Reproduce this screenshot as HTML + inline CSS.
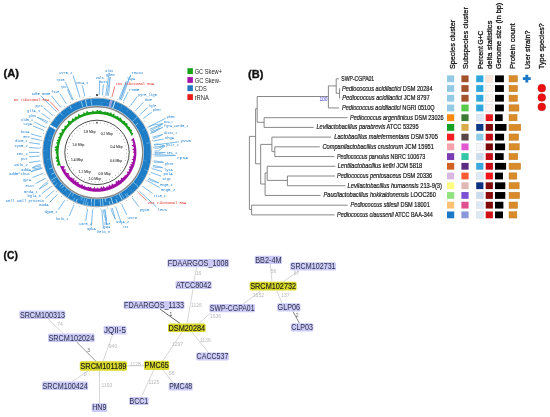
<!DOCTYPE html>
<html><head><meta charset="utf-8"><style>
html,body{margin:0;padding:0;background:#fff;width:550px;height:417px;overflow:hidden}
svg{display:block;will-change:transform}
</style></head><body>
<svg width="550" height="417" viewBox="0 0 550 417">
<rect width="550" height="417" fill="#fff"/>
<text x="3.60" y="77.40" font-family="Liberation Sans" font-size="11.3" fill="#111" font-weight="bold" font-style="normal" text-anchor="start" textLength="15.50" lengthAdjust="spacingAndGlyphs" stroke="#111" stroke-width="0.35">(A)</text>
<rect x="187.4" y="68.20" width="5.5" height="5.8" fill="#1aa31a"/>
<text x="194.70" y="73.60" font-family="Liberation Sans" font-size="6.4" fill="#2a2a2a" font-weight="normal" font-style="normal" text-anchor="start" textLength="27.30" lengthAdjust="spacingAndGlyphs">GC Skew+</text>
<rect x="187.4" y="77.10" width="5.5" height="5.8" fill="#a312a6"/>
<text x="194.70" y="82.50" font-family="Liberation Sans" font-size="6.4" fill="#2a2a2a" font-weight="normal" font-style="normal" text-anchor="start" textLength="26.20" lengthAdjust="spacingAndGlyphs">GC Skew-</text>
<rect x="187.4" y="85.30" width="5.5" height="5.8" fill="#2577c0"/>
<text x="194.70" y="90.70" font-family="Liberation Sans" font-size="6.4" fill="#2a2a2a" font-weight="normal" font-style="normal" text-anchor="start" textLength="12.00" lengthAdjust="spacingAndGlyphs">CDS</text>
<rect x="187.4" y="94.20" width="5.5" height="5.8" fill="#ea1b1b"/>
<text x="194.70" y="99.60" font-family="Liberation Sans" font-size="6.4" fill="#2a2a2a" font-weight="normal" font-style="normal" text-anchor="start" textLength="14.20" lengthAdjust="spacingAndGlyphs">rRNA</text>
<g><polyline points="79.96,97.48 78.78,93.66 73.10,75.36" fill="none" stroke="#5aa7df" stroke-width="0.8"/><polyline points="73.31,100.01 71.66,96.36 65.21,82.11" fill="none" stroke="#5aa7df" stroke-width="0.8"/><polyline points="84.77,96.22 83.92,92.31 82.41,85.38" fill="none" stroke="#5aa7df" stroke-width="0.8"/><polyline points="72.47,100.40 70.76,96.78 67.33,89.50" fill="none" stroke="#5aa7df" stroke-width="0.8"/><polyline points="66.32,103.77 64.19,100.39 59.93,93.65" fill="none" stroke="#5aa7df" stroke-width="0.8"/><polyline points="60.95,107.61 58.44,104.49 51.43,95.78" fill="none" stroke="#5aa7df" stroke-width="0.8"/><polyline points="56.45,111.63 53.63,108.80 40.71,95.81" fill="none" stroke="#5aa7df" stroke-width="0.8"/><polyline points="58.02,110.13 55.31,107.19 50.28,101.74" fill="none" stroke="#ea5a55" stroke-width="0.8"/><polyline points="52.91,115.49 49.84,112.93 43.77,107.84" fill="none" stroke="#5aa7df" stroke-width="0.8"/><polyline points="50.02,119.25 46.75,116.94 41.42,113.18" fill="none" stroke="#5aa7df" stroke-width="0.8"/><polyline points="47.42,123.27 43.97,121.25 37.26,117.31" fill="none" stroke="#5aa7df" stroke-width="0.8"/><polyline points="48.10,122.16 44.69,120.05 37.26,117.31" fill="none" stroke="#5aa7df" stroke-width="0.7"/><polyline points="45.25,127.34 41.65,125.59 34.30,122.04" fill="none" stroke="#5aa7df" stroke-width="0.8"/><polyline points="43.87,130.42 40.17,128.90 33.12,125.98" fill="none" stroke="#5aa7df" stroke-width="0.8"/><polyline points="41.63,136.89 37.78,135.81 30.86,133.87" fill="none" stroke="#5aa7df" stroke-width="0.8"/><polyline points="40.80,140.25 36.89,139.41 30.88,138.11" fill="none" stroke="#5aa7df" stroke-width="0.8"/><polyline points="40.10,144.14 36.14,143.57 29.09,142.54" fill="none" stroke="#5aa7df" stroke-width="0.8"/><polyline points="39.65,148.24 35.66,147.95 29.10,147.47" fill="none" stroke="#5aa7df" stroke-width="0.8"/><polyline points="39.50,152.40 35.50,152.40 29.10,152.40" fill="none" stroke="#5aa7df" stroke-width="0.8"/><polyline points="39.62,156.06 35.63,156.32 29.10,156.74" fill="none" stroke="#5aa7df" stroke-width="0.8"/><polyline points="40.13,160.90 36.18,161.49 29.09,162.55" fill="none" stroke="#5aa7df" stroke-width="0.8"/><polyline points="41.06,165.70 37.17,166.63 32.37,167.77" fill="none" stroke="#5aa7df" stroke-width="0.8"/><polyline points="40.77,164.43 36.86,165.27 32.37,167.77" fill="none" stroke="#5aa7df" stroke-width="0.7"/><polyline points="41.72,168.23 37.88,169.33 32.37,167.77" fill="none" stroke="#5aa7df" stroke-width="0.7"/><polyline points="41.80,168.49 37.96,169.61 31.06,171.62" fill="none" stroke="#5aa7df" stroke-width="0.8"/><polyline points="41.45,167.23 37.58,168.27 31.06,171.62" fill="none" stroke="#5aa7df" stroke-width="0.7"/><polyline points="43.41,173.23 39.68,174.68 32.33,177.54" fill="none" stroke="#5aa7df" stroke-width="0.8"/><polyline points="45.67,178.31 42.10,180.11 35.49,183.45" fill="none" stroke="#5aa7df" stroke-width="0.8"/><polyline points="48.41,183.14 45.03,185.28 39.05,189.07" fill="none" stroke="#5aa7df" stroke-width="0.8"/><polyline points="47.72,182.03 44.30,184.09 39.05,189.07" fill="none" stroke="#5aa7df" stroke-width="0.7"/><polyline points="50.91,186.78 47.70,189.17 41.90,193.50" fill="none" stroke="#5aa7df" stroke-width="0.8"/><polyline points="54.02,190.60 51.03,193.26 45.55,198.14" fill="none" stroke="#5aa7df" stroke-width="0.8"/><polyline points="57.51,194.20 54.76,197.10 49.79,202.37" fill="none" stroke="#5aa7df" stroke-width="0.8"/><polyline points="64.86,200.08 62.62,203.39 58.46,209.57" fill="none" stroke="#5aa7df" stroke-width="0.8"/><polyline points="73.97,205.08 72.36,208.75 69.20,215.98" fill="none" stroke="#5aa7df" stroke-width="0.8"/><polyline points="87.59,209.12 86.93,213.07 85.66,220.71" fill="none" stroke="#5aa7df" stroke-width="0.8"/><polyline points="92.61,209.73 92.30,213.72 91.38,225.80" fill="none" stroke="#5aa7df" stroke-width="0.8"/><polyline points="105.05,209.33 105.61,213.29 106.66,220.71" fill="none" stroke="#5aa7df" stroke-width="0.8"/><polyline points="104.65,209.39 105.18,213.35 106.67,224.41" fill="none" stroke="#5aa7df" stroke-width="0.8"/><polyline points="103.36,209.55 103.80,213.52 106.67,224.41" fill="none" stroke="#5aa7df" stroke-width="0.7"/><polyline points="101.82,209.70 102.15,213.68 103.42,228.70" fill="none" stroke="#5aa7df" stroke-width="0.8"/><polyline points="112.21,207.85 113.27,211.71 115.34,219.24" fill="none" stroke="#5aa7df" stroke-width="0.8"/><polyline points="110.95,208.18 111.92,212.06 115.34,219.24" fill="none" stroke="#5aa7df" stroke-width="0.7"/><polyline points="115.70,206.78 117.00,210.56 121.77,224.45" fill="none" stroke="#5aa7df" stroke-width="0.8"/><polyline points="121.73,204.31 123.45,207.92 126.77,214.90" fill="none" stroke="#5aa7df" stroke-width="0.8"/><polyline points="132.13,197.92 134.57,201.09 138.99,206.81" fill="none" stroke="#5aa7df" stroke-width="0.8"/><polyline points="139.38,191.26 142.33,193.96 156.46,206.92" fill="none" stroke="#5aa7df" stroke-width="0.8"/><polyline points="138.19,192.52 141.05,195.31 146.48,200.60" fill="none" stroke="#ea5a55" stroke-width="0.8"/><polyline points="143.20,186.64 146.41,189.02 152.60,193.60" fill="none" stroke="#5aa7df" stroke-width="0.8"/><polyline points="147.11,180.60 150.59,182.57 159.73,187.71" fill="none" stroke="#5aa7df" stroke-width="0.8"/><polyline points="148.53,177.92 152.11,179.69 158.70,182.96" fill="none" stroke="#5aa7df" stroke-width="0.8"/><polyline points="147.94,179.08 151.48,180.94 158.70,182.96" fill="none" stroke="#5aa7df" stroke-width="0.7"/><polyline points="150.91,172.39 154.66,173.78 161.06,176.15" fill="none" stroke="#5aa7df" stroke-width="0.8"/><polyline points="152.17,168.62 156.00,169.74 162.04,171.52" fill="none" stroke="#5aa7df" stroke-width="0.8"/><polyline points="153.02,165.35 156.92,166.26 162.63,167.57" fill="none" stroke="#5aa7df" stroke-width="0.8"/><polyline points="152.71,166.62 156.59,167.61 162.63,167.57" fill="none" stroke="#5aa7df" stroke-width="0.7"/><polyline points="153.88,160.81 157.84,161.40 163.61,162.25" fill="none" stroke="#5aa7df" stroke-width="0.8"/><polyline points="153.68,162.10 157.62,162.78 163.61,162.25" fill="none" stroke="#5aa7df" stroke-width="0.7"/><polyline points="154.46,154.64 158.45,154.79 175.60,155.46" fill="none" stroke="#5aa7df" stroke-width="0.8"/><polyline points="154.39,155.94 158.38,156.19 175.60,155.46" fill="none" stroke="#5aa7df" stroke-width="0.7"/><polyline points="154.50,152.40 158.50,152.40 165.30,152.40" fill="none" stroke="#5aa7df" stroke-width="0.8"/><polyline points="154.49,153.70 158.48,153.80 165.30,152.40" fill="none" stroke="#5aa7df" stroke-width="0.7"/><polyline points="154.25,147.07 158.24,146.70 164.80,146.09" fill="none" stroke="#5aa7df" stroke-width="0.8"/><polyline points="154.36,148.37 158.35,148.09 164.80,146.09" fill="none" stroke="#5aa7df" stroke-width="0.7"/><polyline points="153.95,144.48 157.91,143.93 164.80,146.09" fill="none" stroke="#5aa7df" stroke-width="0.7"/><polyline points="154.48,150.98 158.48,150.88 164.80,146.09" fill="none" stroke="#5aa7df" stroke-width="0.7"/><polyline points="154.03,145.05 158.00,144.54 179.01,141.83" fill="none" stroke="#5aa7df" stroke-width="0.8"/><polyline points="153.37,141.04 157.29,140.25 163.52,139.00" fill="none" stroke="#5aa7df" stroke-width="0.8"/><polyline points="152.47,137.24 156.32,136.19 162.64,134.46" fill="none" stroke="#5aa7df" stroke-width="0.8"/><polyline points="152.80,138.50 156.68,137.54 162.64,134.46" fill="none" stroke="#5aa7df" stroke-width="0.7"/><polyline points="150.73,131.91 154.46,130.48 162.67,127.36" fill="none" stroke="#5aa7df" stroke-width="0.8"/><polyline points="151.18,133.13 154.95,131.79 162.67,127.36" fill="none" stroke="#5aa7df" stroke-width="0.7"/><polyline points="149.69,129.38 153.36,127.78 162.68,123.70" fill="none" stroke="#5aa7df" stroke-width="0.8"/><polyline points="150.20,130.58 153.90,129.06 162.68,123.70" fill="none" stroke="#5aa7df" stroke-width="0.7"/><polyline points="148.59,127.01 152.18,125.25 162.68,123.70" fill="none" stroke="#5aa7df" stroke-width="0.7"/><polyline points="151.13,133.01 154.90,131.67 162.68,123.70" fill="none" stroke="#5aa7df" stroke-width="0.7"/><polyline points="148.52,126.86 152.10,125.09 165.70,118.34" fill="none" stroke="#5aa7df" stroke-width="0.8"/><polyline points="143.36,118.38 146.58,116.02 151.79,112.19" fill="none" stroke="#5aa7df" stroke-width="0.8"/><polyline points="140.13,114.37 143.13,111.73 147.85,107.56" fill="none" stroke="#5aa7df" stroke-width="0.8"/><polyline points="136.02,110.16 138.73,107.23 143.62,101.93" fill="none" stroke="#5aa7df" stroke-width="0.8"/><polyline points="130.58,105.73 132.92,102.48 137.22,96.51" fill="none" stroke="#5aa7df" stroke-width="0.8"/><polyline points="123.35,101.29 125.18,97.74 128.14,91.99" fill="none" stroke="#5aa7df" stroke-width="0.8"/><polyline points="111.98,96.88 113.02,93.02 114.84,86.27" fill="none" stroke="#ea5a55" stroke-width="0.8"/><polyline points="118.92,99.24 120.44,95.54 126.22,81.52" fill="none" stroke="#5aa7df" stroke-width="0.8"/><polyline points="120.12,99.75 121.72,96.09 126.22,81.52" fill="none" stroke="#5aa7df" stroke-width="0.7"/><polyline points="119.93,99.67 121.53,96.00 130.70,74.92" fill="none" stroke="#5aa7df" stroke-width="0.8"/><polyline points="121.12,100.21 122.80,96.57 130.70,74.92" fill="none" stroke="#5aa7df" stroke-width="0.7"/><polyline points="102.39,95.15 102.77,91.17 103.41,84.40" fill="none" stroke="#5aa7df" stroke-width="0.8"/><polyline points="99.20,94.94 99.35,90.95 99.76,80.30" fill="none" stroke="#5aa7df" stroke-width="0.8"/><polyline points="106.88,95.76 107.57,91.82 110.18,76.89" fill="none" stroke="#5aa7df" stroke-width="0.8"/><polyline points="108.17,95.99 108.94,92.07 110.18,76.89" fill="none" stroke="#5aa7df" stroke-width="0.7"/><polyline points="105.67,95.56 106.28,91.60 109.15,72.79" fill="none" stroke="#5aa7df" stroke-width="0.8"/></g>
<text x="59.30" y="74.25" font-family="Liberation Mono" font-size="4.4" fill="#3a8fd4" font-weight="normal" font-style="normal" text-anchor="start" textLength="13.10" lengthAdjust="spacingAndGlyphs" stroke="#3a8fd4" stroke-width="0.05">uvrB_2</text>
<text x="56.40" y="81.05" font-family="Liberation Mono" font-size="4.4" fill="#3a8fd4" font-weight="normal" font-style="normal" text-anchor="start" textLength="8.00" lengthAdjust="spacingAndGlyphs" stroke="#3a8fd4" stroke-width="0.05">rpsB</text>
<text x="76.00" y="84.25" font-family="Liberation Mono" font-size="4.4" fill="#3a8fd4" font-weight="normal" font-style="normal" text-anchor="start" textLength="12.40" lengthAdjust="spacingAndGlyphs" stroke="#3a8fd4" stroke-width="0.05">secA_2</text>
<text x="60.70" y="88.45" font-family="Liberation Mono" font-size="4.4" fill="#3a8fd4" font-weight="normal" font-style="normal" text-anchor="start" textLength="5.80" lengthAdjust="spacingAndGlyphs" stroke="#3a8fd4" stroke-width="0.05">rpoC</text>
<text x="51.60" y="92.65" font-family="Liberation Mono" font-size="4.4" fill="#3a8fd4" font-weight="normal" font-style="normal" text-anchor="start" textLength="7.40" lengthAdjust="spacingAndGlyphs" stroke="#3a8fd4" stroke-width="0.05">ftsH</text>
<text x="42.00" y="94.85" font-family="Liberation Mono" font-size="4.4" fill="#3a8fd4" font-weight="normal" font-style="normal" text-anchor="start" textLength="8.40" lengthAdjust="spacingAndGlyphs" stroke="#3a8fd4" stroke-width="0.05">mnmE</text>
<text x="31.80" y="94.95" font-family="Liberation Mono" font-size="4.4" fill="#3a8fd4" font-weight="normal" font-style="normal" text-anchor="start" textLength="7.80" lengthAdjust="spacingAndGlyphs" stroke="#3a8fd4" stroke-width="0.05">adhE</text>
<text x="13.80" y="100.85" font-family="Liberation Mono" font-size="4.4" fill="#ec4a44" font-weight="normal" font-style="normal" text-anchor="start" textLength="35.40" lengthAdjust="spacingAndGlyphs" stroke="#ec4a44" stroke-width="0.05">5S ribosomal RNA</text>
<text x="35.40" y="107.05" font-family="Liberation Mono" font-size="4.4" fill="#3a8fd4" font-weight="normal" font-style="normal" text-anchor="start" textLength="7.20" lengthAdjust="spacingAndGlyphs" stroke="#3a8fd4" stroke-width="0.05">pyrC</text>
<text x="27.00" y="112.45" font-family="Liberation Mono" font-size="4.4" fill="#3a8fd4" font-weight="normal" font-style="normal" text-anchor="start" textLength="13.20" lengthAdjust="spacingAndGlyphs" stroke="#3a8fd4" stroke-width="0.05">glfA_1</text>
<text x="28.80" y="116.65" font-family="Liberation Mono" font-size="4.4" fill="#3a8fd4" font-weight="normal" font-style="normal" text-anchor="start" textLength="7.20" lengthAdjust="spacingAndGlyphs" stroke="#3a8fd4" stroke-width="0.05">glmS</text>
<text x="21.00" y="121.45" font-family="Liberation Mono" font-size="4.4" fill="#3a8fd4" font-weight="normal" font-style="normal" text-anchor="start" textLength="12.00" lengthAdjust="spacingAndGlyphs" stroke="#3a8fd4" stroke-width="0.05">oldB_1</text>
<text x="23.40" y="125.45" font-family="Liberation Mono" font-size="4.4" fill="#3a8fd4" font-weight="normal" font-style="normal" text-anchor="start" textLength="8.40" lengthAdjust="spacingAndGlyphs" stroke="#3a8fd4" stroke-width="0.05">ctgA</text>
<text x="21.00" y="133.45" font-family="Liberation Mono" font-size="4.4" fill="#3a8fd4" font-weight="normal" font-style="normal" text-anchor="start" textLength="8.50" lengthAdjust="spacingAndGlyphs" stroke="#3a8fd4" stroke-width="0.05">bcsA</text>
<text x="23.20" y="137.75" font-family="Liberation Mono" font-size="4.4" fill="#3a8fd4" font-weight="normal" font-style="normal" text-anchor="start" textLength="6.30" lengthAdjust="spacingAndGlyphs" stroke="#3a8fd4" stroke-width="0.05">eno</text>
<text x="15.00" y="142.25" font-family="Liberation Mono" font-size="4.4" fill="#3a8fd4" font-weight="normal" font-style="normal" text-anchor="start" textLength="12.70" lengthAdjust="spacingAndGlyphs" stroke="#3a8fd4" stroke-width="0.05">dinG_1</text>
<text x="14.50" y="147.25" font-family="Liberation Mono" font-size="4.4" fill="#3a8fd4" font-weight="normal" font-style="normal" text-anchor="start" textLength="13.20" lengthAdjust="spacingAndGlyphs" stroke="#3a8fd4" stroke-width="0.05">synB_2</text>
<text x="16.50" y="155.45" font-family="Liberation Mono" font-size="4.4" fill="#3a8fd4" font-weight="normal" font-style="normal" text-anchor="start" textLength="11.20" lengthAdjust="spacingAndGlyphs" stroke="#3a8fd4" stroke-width="0.05">sec_2</text>
<text x="21.00" y="159.85" font-family="Liberation Mono" font-size="4.4" fill="#3a8fd4" font-weight="normal" font-style="normal" text-anchor="start" textLength="6.70" lengthAdjust="spacingAndGlyphs" stroke="#3a8fd4" stroke-width="0.05">pur</text>
<text x="14.50" y="165.75" font-family="Liberation Mono" font-size="4.4" fill="#3a8fd4" font-weight="normal" font-style="normal" text-anchor="start" textLength="13.20" lengthAdjust="spacingAndGlyphs" stroke="#3a8fd4" stroke-width="0.05">walK_2</text>
<text x="21.00" y="171.05" font-family="Liberation Mono" font-size="4.4" fill="#3a8fd4" font-weight="normal" font-style="normal" text-anchor="start" textLength="10.00" lengthAdjust="spacingAndGlyphs" stroke="#3a8fd4" stroke-width="0.05">addA</text>
<text x="9.20" y="174.95" font-family="Liberation Mono" font-size="4.4" fill="#3a8fd4" font-weight="normal" font-style="normal" text-anchor="start" textLength="20.50" lengthAdjust="spacingAndGlyphs" stroke="#3a8fd4" stroke-width="0.05">addB^thuC</text>
<text x="23.00" y="180.95" font-family="Liberation Mono" font-size="4.4" fill="#3a8fd4" font-weight="normal" font-style="normal" text-anchor="start" textLength="8.00" lengthAdjust="spacingAndGlyphs" stroke="#3a8fd4" stroke-width="0.05">gyrA</text>
<text x="25.50" y="186.95" font-family="Liberation Mono" font-size="4.4" fill="#3a8fd4" font-weight="normal" font-style="normal" text-anchor="start" textLength="8.70" lengthAdjust="spacingAndGlyphs" stroke="#3a8fd4" stroke-width="0.05">ecsT</text>
<text x="24.00" y="192.65" font-family="Liberation Mono" font-size="4.4" fill="#3a8fd4" font-weight="normal" font-style="normal" text-anchor="start" textLength="13.80" lengthAdjust="spacingAndGlyphs" stroke="#3a8fd4" stroke-width="0.05">mrdA_1</text>
<text x="27.60" y="197.15" font-family="Liberation Mono" font-size="4.4" fill="#3a8fd4" font-weight="normal" font-style="normal" text-anchor="start" textLength="13.10" lengthAdjust="spacingAndGlyphs" stroke="#3a8fd4" stroke-width="0.05">bglA_3</text>
<text x="5.80" y="201.85" font-family="Liberation Mono" font-size="4.4" fill="#3a8fd4" font-weight="normal" font-style="normal" text-anchor="start" textLength="38.60" lengthAdjust="spacingAndGlyphs" stroke="#3a8fd4" stroke-width="0.05">Cell wall protein</text>
<text x="39.30" y="206.15" font-family="Liberation Mono" font-size="4.4" fill="#3a8fd4" font-weight="normal" font-style="normal" text-anchor="start" textLength="9.40" lengthAdjust="spacingAndGlyphs" stroke="#3a8fd4" stroke-width="0.05">mudA</text>
<text x="44.40" y="213.45" font-family="Liberation Mono" font-size="4.4" fill="#3a8fd4" font-weight="normal" font-style="normal" text-anchor="start" textLength="13.10" lengthAdjust="spacingAndGlyphs" stroke="#3a8fd4" stroke-width="0.05">dgaR_1</text>
<text x="56.00" y="219.95" font-family="Liberation Mono" font-size="4.4" fill="#3a8fd4" font-weight="normal" font-style="normal" text-anchor="start" textLength="12.40" lengthAdjust="spacingAndGlyphs" stroke="#3a8fd4" stroke-width="0.05">holD_2</text>
<text x="79.00" y="224.75" font-family="Liberation Mono" font-size="4.4" fill="#3a8fd4" font-weight="normal" font-style="normal" text-anchor="start" textLength="13.00" lengthAdjust="spacingAndGlyphs" stroke="#3a8fd4" stroke-width="0.05">carB_2</text>
<text x="87.00" y="229.85" font-family="Liberation Mono" font-size="4.4" fill="#3a8fd4" font-weight="normal" font-style="normal" text-anchor="start" textLength="8.60" lengthAdjust="spacingAndGlyphs" stroke="#3a8fd4" stroke-width="0.05">apkA</text>
<text x="103.60" y="224.75" font-family="Liberation Mono" font-size="4.4" fill="#3a8fd4" font-weight="normal" font-style="normal" text-anchor="start" textLength="6.40" lengthAdjust="spacingAndGlyphs" stroke="#3a8fd4" stroke-width="0.05">lacE</text>
<text x="103.60" y="228.45" font-family="Liberation Mono" font-size="4.4" fill="#3a8fd4" font-weight="normal" font-style="normal" text-anchor="start" textLength="6.40" lengthAdjust="spacingAndGlyphs" stroke="#3a8fd4" stroke-width="0.05">gapA</text>
<text x="97.00" y="232.75" font-family="Liberation Mono" font-size="4.4" fill="#3a8fd4" font-weight="normal" font-style="normal" text-anchor="start" textLength="13.00" lengthAdjust="spacingAndGlyphs" stroke="#3a8fd4" stroke-width="0.05">helD_3</text>
<text x="116.00" y="223.25" font-family="Liberation Mono" font-size="4.4" fill="#3a8fd4" font-weight="normal" font-style="normal" text-anchor="start" textLength="13.00" lengthAdjust="spacingAndGlyphs" stroke="#3a8fd4" stroke-width="0.05">uvrA_2</text>
<text x="122.50" y="228.45" font-family="Liberation Mono" font-size="4.4" fill="#3a8fd4" font-weight="normal" font-style="normal" text-anchor="start" textLength="5.90" lengthAdjust="spacingAndGlyphs" stroke="#3a8fd4" stroke-width="0.05">rsz</text>
<text x="127.60" y="218.85" font-family="Liberation Mono" font-size="4.4" fill="#3a8fd4" font-weight="normal" font-style="normal" text-anchor="start" textLength="9.40" lengthAdjust="spacingAndGlyphs" stroke="#3a8fd4" stroke-width="0.05">uvrD</text>
<text x="140.00" y="210.65" font-family="Liberation Mono" font-size="4.4" fill="#3a8fd4" font-weight="normal" font-style="normal" text-anchor="start" textLength="9.40" lengthAdjust="spacingAndGlyphs" stroke="#3a8fd4" stroke-width="0.05">pgiB</text>
<text x="157.60" y="210.65" font-family="Liberation Mono" font-size="4.4" fill="#3a8fd4" font-weight="normal" font-style="normal" text-anchor="start" textLength="9.40" lengthAdjust="spacingAndGlyphs" stroke="#3a8fd4" stroke-width="0.05">leuS</text>
<text x="147.60" y="204.35" font-family="Liberation Mono" font-size="4.4" fill="#ec4a44" font-weight="normal" font-style="normal" text-anchor="start" textLength="38.70" lengthAdjust="spacingAndGlyphs" stroke="#ec4a44" stroke-width="0.05">23S ribosomal RNA</text>
<text x="153.80" y="197.25" font-family="Liberation Mono" font-size="4.4" fill="#3a8fd4" font-weight="normal" font-style="normal" text-anchor="start" textLength="12.00" lengthAdjust="spacingAndGlyphs" stroke="#3a8fd4" stroke-width="0.05">iicR_1</text>
<text x="161.00" y="191.25" font-family="Liberation Mono" font-size="4.4" fill="#3a8fd4" font-weight="normal" font-style="normal" text-anchor="start" textLength="14.00" lengthAdjust="spacingAndGlyphs" stroke="#3a8fd4" stroke-width="0.05">engB_2</text>
<text x="160.00" y="186.45" font-family="Liberation Mono" font-size="4.4" fill="#3a8fd4" font-weight="normal" font-style="normal" text-anchor="start" textLength="12.70" lengthAdjust="spacingAndGlyphs" stroke="#3a8fd4" stroke-width="0.05">engB_1</text>
<text x="162.40" y="179.55" font-family="Liberation Mono" font-size="4.4" fill="#3a8fd4" font-weight="normal" font-style="normal" text-anchor="start" textLength="8.60" lengthAdjust="spacingAndGlyphs" stroke="#3a8fd4" stroke-width="0.05">argI</text>
<text x="163.40" y="174.85" font-family="Liberation Mono" font-size="4.4" fill="#3a8fd4" font-weight="normal" font-style="normal" text-anchor="start" textLength="9.30" lengthAdjust="spacingAndGlyphs" stroke="#3a8fd4" stroke-width="0.05">polA</text>
<text x="164.00" y="170.85" font-family="Liberation Mono" font-size="4.4" fill="#3a8fd4" font-weight="normal" font-style="normal" text-anchor="start" textLength="8.70" lengthAdjust="spacingAndGlyphs" stroke="#3a8fd4" stroke-width="0.05">lysA</text>
<text x="165.00" y="165.45" font-family="Liberation Mono" font-size="4.4" fill="#3a8fd4" font-weight="normal" font-style="normal" text-anchor="start" textLength="8.80" lengthAdjust="spacingAndGlyphs" stroke="#3a8fd4" stroke-width="0.05">phoT</text>
<text x="177.00" y="158.55" font-family="Liberation Mono" font-size="4.4" fill="#3a8fd4" font-weight="normal" font-style="normal" text-anchor="start" textLength="11.00" lengthAdjust="spacingAndGlyphs" stroke="#3a8fd4" stroke-width="0.05">rpsA</text>
<text x="166.70" y="153.85" font-family="Liberation Mono" font-size="4.4" fill="#3a8fd4" font-weight="normal" font-style="normal" text-anchor="start" textLength="10.30" lengthAdjust="spacingAndGlyphs" stroke="#3a8fd4" stroke-width="0.05">sec_1</text>
<text x="166.20" y="145.85" font-family="Liberation Mono" font-size="4.4" fill="#3a8fd4" font-weight="normal" font-style="normal" text-anchor="start" textLength="12.80" lengthAdjust="spacingAndGlyphs" stroke="#3a8fd4" stroke-width="0.05">psiT_1</text>
<text x="180.40" y="141.55" font-family="Liberation Mono" font-size="4.4" fill="#3a8fd4" font-weight="normal" font-style="normal" text-anchor="start" textLength="10.40" lengthAdjust="spacingAndGlyphs" stroke="#3a8fd4" stroke-width="0.05">yvcB</text>
<text x="164.90" y="138.65" font-family="Liberation Mono" font-size="4.4" fill="#3a8fd4" font-weight="normal" font-style="normal" text-anchor="start" textLength="9.10" lengthAdjust="spacingAndGlyphs" stroke="#3a8fd4" stroke-width="0.05">nhgA</text>
<text x="164.00" y="134.05" font-family="Liberation Mono" font-size="4.4" fill="#3a8fd4" font-weight="normal" font-style="normal" text-anchor="start" textLength="13.00" lengthAdjust="spacingAndGlyphs" stroke="#3a8fd4" stroke-width="0.05">divIC_1</text>
<text x="164.00" y="126.85" font-family="Liberation Mono" font-size="4.4" fill="#3a8fd4" font-weight="normal" font-style="normal" text-anchor="start" textLength="24.20" lengthAdjust="spacingAndGlyphs" stroke="#3a8fd4" stroke-width="0.05">fgTA_cardB_1</text>
<text x="164.00" y="123.15" font-family="Liberation Mono" font-size="4.4" fill="#3a8fd4" font-weight="normal" font-style="normal" text-anchor="start" textLength="8.60" lengthAdjust="spacingAndGlyphs" stroke="#3a8fd4" stroke-width="0.05">murA_1</text>
<text x="167.00" y="117.75" font-family="Liberation Mono" font-size="4.4" fill="#3a8fd4" font-weight="normal" font-style="normal" text-anchor="start" textLength="7.80" lengthAdjust="spacingAndGlyphs" stroke="#3a8fd4" stroke-width="0.05">pheC</text>
<text x="153.00" y="111.45" font-family="Liberation Mono" font-size="4.4" fill="#3a8fd4" font-weight="normal" font-style="normal" text-anchor="start" textLength="8.00" lengthAdjust="spacingAndGlyphs" stroke="#3a8fd4" stroke-width="0.05">pheT</text>
<text x="149.00" y="106.75" font-family="Liberation Mono" font-size="4.4" fill="#3a8fd4" font-weight="normal" font-style="normal" text-anchor="start" textLength="7.00" lengthAdjust="spacingAndGlyphs" stroke="#3a8fd4" stroke-width="0.05">hglF</text>
<text x="144.70" y="101.05" font-family="Liberation Mono" font-size="4.4" fill="#3a8fd4" font-weight="normal" font-style="normal" text-anchor="start" textLength="7.10" lengthAdjust="spacingAndGlyphs" stroke="#3a8fd4" stroke-width="0.05">dnaE</text>
<text x="138.20" y="95.55" font-family="Liberation Mono" font-size="4.4" fill="#3a8fd4" font-weight="normal" font-style="normal" text-anchor="start" textLength="18.50" lengthAdjust="spacingAndGlyphs" stroke="#3a8fd4" stroke-width="0.05">pyrE_ligB</text>
<text x="129.00" y="90.95" font-family="Liberation Mono" font-size="4.4" fill="#3a8fd4" font-weight="normal" font-style="normal" text-anchor="start" textLength="10.50" lengthAdjust="spacingAndGlyphs" stroke="#3a8fd4" stroke-width="0.05">rnmE</text>
<text x="115.50" y="85.15" font-family="Liberation Mono" font-size="4.4" fill="#ec4a44" font-weight="normal" font-style="normal" text-anchor="start" textLength="38.50" lengthAdjust="spacingAndGlyphs" stroke="#ec4a44" stroke-width="0.05">16S ribosomal RNA</text>
<text x="127.00" y="80.45" font-family="Liberation Mono" font-size="4.4" fill="#3a8fd4" font-weight="normal" font-style="normal" text-anchor="start" textLength="8.00" lengthAdjust="spacingAndGlyphs" stroke="#3a8fd4" stroke-width="0.05">lipA</text>
<text x="131.50" y="73.85" font-family="Liberation Mono" font-size="4.4" fill="#3a8fd4" font-weight="normal" font-style="normal" text-anchor="start" textLength="11.50" lengthAdjust="spacingAndGlyphs" stroke="#3a8fd4" stroke-width="0.05">recD2</text>
<text x="99.50" y="83.25" font-family="Liberation Mono" font-size="4.4" fill="#3a8fd4" font-weight="normal" font-style="normal" text-anchor="start" textLength="8.00" lengthAdjust="spacingAndGlyphs" stroke="#3a8fd4" stroke-width="0.05">mutS</text>
<text x="95.80" y="79.15" font-family="Liberation Mono" font-size="4.4" fill="#3a8fd4" font-weight="normal" font-style="normal" text-anchor="start" textLength="8.00" lengthAdjust="spacingAndGlyphs" stroke="#3a8fd4" stroke-width="0.05">valS</text>
<text x="106.00" y="75.75" font-family="Liberation Mono" font-size="4.4" fill="#3a8fd4" font-weight="normal" font-style="normal" text-anchor="start" textLength="8.70" lengthAdjust="spacingAndGlyphs" stroke="#3a8fd4" stroke-width="0.05">glmS</text>
<text x="105.30" y="71.65" font-family="Liberation Mono" font-size="4.4" fill="#3a8fd4" font-weight="normal" font-style="normal" text-anchor="start" textLength="8.00" lengthAdjust="spacingAndGlyphs" stroke="#3a8fd4" stroke-width="0.05">alaS</text>
<g><circle cx="97.00" cy="95.80" r="0.45" fill="#777"/><circle cx="103.96" cy="96.23" r="0.45" fill="#777"/><circle cx="110.81" cy="97.51" r="0.45" fill="#777"/><circle cx="117.45" cy="99.62" r="0.45" fill="#777"/><circle cx="123.78" cy="102.53" r="0.45" fill="#777"/><circle cx="129.70" cy="106.20" r="0.45" fill="#777"/><circle cx="135.13" cy="110.57" r="0.45" fill="#777"/><circle cx="139.98" cy="115.58" r="0.45" fill="#777"/><circle cx="144.18" cy="121.14" r="0.45" fill="#777"/><circle cx="147.67" cy="127.17" r="0.45" fill="#777"/><circle cx="150.38" cy="133.59" r="0.45" fill="#777"/><circle cx="152.29" cy="140.29" r="0.45" fill="#777"/><circle cx="153.36" cy="147.18" r="0.45" fill="#777"/><circle cx="153.57" cy="154.14" r="0.45" fill="#777"/><circle cx="152.93" cy="161.08" r="0.45" fill="#777"/><circle cx="151.44" cy="167.89" r="0.45" fill="#777"/><circle cx="149.12" cy="174.46" r="0.45" fill="#777"/><circle cx="146.02" cy="180.70" r="0.45" fill="#777"/><circle cx="142.17" cy="186.51" r="0.45" fill="#777"/><circle cx="137.63" cy="191.80" r="0.45" fill="#777"/><circle cx="132.48" cy="196.50" r="0.45" fill="#777"/><circle cx="126.80" cy="200.52" r="0.45" fill="#777"/><circle cx="120.66" cy="203.82" r="0.45" fill="#777"/><circle cx="114.16" cy="206.34" r="0.45" fill="#777"/><circle cx="107.40" cy="208.04" r="0.45" fill="#777"/><circle cx="100.48" cy="208.89" r="0.45" fill="#777"/><circle cx="93.52" cy="208.89" r="0.45" fill="#777"/><circle cx="86.60" cy="208.04" r="0.45" fill="#777"/><circle cx="79.84" cy="206.34" r="0.45" fill="#777"/><circle cx="73.34" cy="203.82" r="0.45" fill="#777"/><circle cx="67.20" cy="200.52" r="0.45" fill="#777"/><circle cx="61.52" cy="196.50" r="0.45" fill="#777"/><circle cx="56.37" cy="191.80" r="0.45" fill="#777"/><circle cx="51.83" cy="186.51" r="0.45" fill="#777"/><circle cx="47.98" cy="180.70" r="0.45" fill="#777"/><circle cx="44.88" cy="174.46" r="0.45" fill="#777"/><circle cx="42.56" cy="167.89" r="0.45" fill="#777"/><circle cx="41.07" cy="161.08" r="0.45" fill="#777"/><circle cx="40.43" cy="154.14" r="0.45" fill="#777"/><circle cx="40.64" cy="147.18" r="0.45" fill="#777"/><circle cx="41.71" cy="140.29" r="0.45" fill="#777"/><circle cx="43.62" cy="133.59" r="0.45" fill="#777"/><circle cx="46.33" cy="127.17" r="0.45" fill="#777"/><circle cx="49.82" cy="121.14" r="0.45" fill="#777"/><circle cx="54.02" cy="115.58" r="0.45" fill="#777"/><circle cx="58.87" cy="110.57" r="0.45" fill="#777"/><circle cx="64.30" cy="106.20" r="0.45" fill="#777"/><circle cx="70.22" cy="102.53" r="0.45" fill="#777"/><circle cx="76.55" cy="99.62" r="0.45" fill="#777"/><circle cx="83.19" cy="97.51" r="0.45" fill="#777"/><circle cx="90.04" cy="96.23" r="0.45" fill="#777"/></g>
<circle cx="97.00" cy="95.10" r="1.0" fill="#222"/>
<circle cx="97.0" cy="152.4" r="54.5" fill="none" stroke="#8a8a8a" stroke-width="0.7"/>
<circle cx="97.0" cy="152.4" r="46.75" fill="none" stroke="#9fd0f0" stroke-width="0.5"/>
<circle cx="97.0" cy="152.4" r="50.4" fill="none" stroke="#1c7cc6" stroke-width="7.0"/>
<g><line x1="53.22" y1="127.43" x2="50.18" y2="125.69" stroke="#79c2ef" stroke-width="0.74"/><line x1="62.63" y1="115.54" x2="60.24" y2="112.98" stroke="#79c2ef" stroke-width="0.86"/><line x1="71.57" y1="108.88" x2="69.81" y2="105.86" stroke="#a6daf7" stroke-width="0.91"/><line x1="83.13" y1="107.60" x2="81.06" y2="100.91" stroke="#8fd0f5" stroke-width="0.96"/><line x1="86.93" y1="106.59" x2="85.43" y2="99.76" stroke="#a6daf7" stroke-width="0.95"/><line x1="91.77" y1="105.79" x2="90.99" y2="98.84" stroke="#8fd0f5" stroke-width="0.83"/><line x1="112.66" y1="108.19" x2="114.99" y2="101.59" stroke="#8fd0f5" stroke-width="0.76"/><line x1="132.29" y1="121.51" x2="137.56" y2="116.90" stroke="#a6daf7" stroke-width="0.66"/><line x1="135.28" y1="125.30" x2="138.13" y2="123.28" stroke="#8fd0f5" stroke-width="0.85"/><line x1="146.57" y1="143.30" x2="150.01" y2="142.67" stroke="#8fd0f5" stroke-width="0.60"/><line x1="52.68" y1="167.75" x2="49.37" y2="168.89" stroke="#8fd0f5" stroke-width="0.91"/><line x1="54.67" y1="172.59" x2="51.51" y2="174.10" stroke="#8fd0f5" stroke-width="0.95"/><line x1="56.88" y1="176.70" x2="50.90" y2="180.32" stroke="#8fd0f5" stroke-width="0.82"/><line x1="57.28" y1="183.43" x2="54.53" y2="185.58" stroke="#8fd0f5" stroke-width="0.67"/><line x1="63.95" y1="185.68" x2="61.49" y2="188.16" stroke="#8fd0f5" stroke-width="0.99"/><line x1="73.69" y1="193.10" x2="71.95" y2="196.14" stroke="#a6daf7" stroke-width="0.61"/><line x1="74.75" y1="197.62" x2="73.20" y2="200.76" stroke="#8fd0f5" stroke-width="0.71"/><line x1="84.86" y1="197.70" x2="83.05" y2="204.46" stroke="#79c2ef" stroke-width="0.83"/><line x1="87.99" y1="201.99" x2="87.36" y2="205.43" stroke="#79c2ef" stroke-width="0.74"/><line x1="94.55" y1="199.24" x2="94.18" y2="206.23" stroke="#a6daf7" stroke-width="0.79"/><line x1="102.39" y1="198.99" x2="103.20" y2="205.94" stroke="#a6daf7" stroke-width="0.79"/><line x1="110.87" y1="197.20" x2="112.94" y2="203.89" stroke="#a6daf7" stroke-width="0.99"/><line x1="120.66" y1="192.89" x2="124.19" y2="198.94" stroke="#79c2ef" stroke-width="0.74"/><line x1="126.62" y1="193.17" x2="128.68" y2="196.01" stroke="#79c2ef" stroke-width="0.92"/><line x1="133.14" y1="182.30" x2="138.53" y2="186.76" stroke="#79c2ef" stroke-width="0.94"/><line x1="144.42" y1="169.47" x2="147.71" y2="170.66" stroke="#79c2ef" stroke-width="0.67"/><line x1="101.09" y1="105.68" x2="101.39" y2="102.19" stroke="#4a9ad8" stroke-width="0.44"/><line x1="120.66" y1="107.90" x2="122.30" y2="104.81" stroke="#5aa6de" stroke-width="0.50"/><line x1="126.62" y1="111.63" x2="128.68" y2="108.79" stroke="#5aa6de" stroke-width="0.63"/><line x1="142.30" y1="130.31" x2="145.44" y2="128.77" stroke="#5aa6de" stroke-width="0.66"/><line x1="147.37" y1="154.16" x2="150.87" y2="154.28" stroke="#4a9ad8" stroke-width="0.46"/><line x1="143.19" y1="160.54" x2="146.63" y2="161.15" stroke="#5aa6de" stroke-width="0.68"/><line x1="141.50" y1="176.06" x2="144.59" y2="177.70" stroke="#4a9ad8" stroke-width="0.49"/><line x1="130.72" y1="189.85" x2="133.07" y2="192.46" stroke="#4a9ad8" stroke-width="0.64"/><line x1="116.08" y1="195.25" x2="117.50" y2="198.44" stroke="#5aa6de" stroke-width="0.70"/><line x1="107.48" y1="201.70" x2="108.21" y2="205.12" stroke="#4a9ad8" stroke-width="0.42"/><line x1="98.64" y1="199.27" x2="98.76" y2="202.77" stroke="#5aa6de" stroke-width="0.41"/><line x1="80.96" y1="196.47" x2="79.76" y2="199.76" stroke="#5aa6de" stroke-width="0.65"/><line x1="67.38" y1="193.17" x2="65.32" y2="196.01" stroke="#5aa6de" stroke-width="0.44"/><line x1="50.56" y1="158.93" x2="47.09" y2="159.41" stroke="#4a9ad8" stroke-width="0.64"/><line x1="46.63" y1="150.64" x2="43.13" y2="150.52" stroke="#4a9ad8" stroke-width="0.44"/><line x1="51.49" y1="141.05" x2="48.10" y2="140.21" stroke="#4a9ad8" stroke-width="0.59"/><line x1="52.93" y1="136.36" x2="49.64" y2="135.16" stroke="#4a9ad8" stroke-width="0.45"/><line x1="57.28" y1="121.37" x2="54.53" y2="119.22" stroke="#4a9ad8" stroke-width="0.65"/><line x1="119.02" y1="193.81" x2="122.30" y2="199.99" stroke="#a6daf7" stroke-width="0.97"/><line x1="115.88" y1="199.13" x2="117.19" y2="202.38" stroke="#8fd0f5" stroke-width="0.99"/><line x1="109.19" y1="201.30" x2="110.04" y2="204.70" stroke="#a6daf7" stroke-width="0.88"/><line x1="100.27" y1="199.19" x2="100.76" y2="206.17" stroke="#a6daf7" stroke-width="0.72"/><line x1="91.73" y1="202.52" x2="91.37" y2="206.00" stroke="#8fd0f5" stroke-width="0.65"/><line x1="82.51" y1="197.00" x2="81.43" y2="200.33" stroke="#79c2ef" stroke-width="0.98"/><line x1="77.31" y1="198.79" x2="75.94" y2="202.02" stroke="#a6daf7" stroke-width="0.95"/><line x1="71.46" y1="191.73" x2="67.64" y2="197.60" stroke="#a6daf7" stroke-width="0.71"/><line x1="66.85" y1="188.33" x2="64.60" y2="191.01" stroke="#79c2ef" stroke-width="0.74"/><line x1="62.15" y1="183.78" x2="59.55" y2="186.12" stroke="#a6daf7" stroke-width="0.88"/><line x1="55.22" y1="180.58" x2="52.31" y2="182.54" stroke="#a6daf7" stroke-width="0.75"/><line x1="91.69" y1="199.00" x2="91.29" y2="202.48" stroke="#a6daf7" stroke-width="0.93"/><line x1="86.85" y1="198.19" x2="85.33" y2="205.02" stroke="#79c2ef" stroke-width="0.89"/><line x1="105.14" y1="198.59" x2="105.75" y2="202.03" stroke="#a6daf7" stroke-width="0.86"/><line x1="125.18" y1="194.18" x2="127.14" y2="197.09" stroke="#8fd0f5" stroke-width="0.79"/><line x1="56.35" y1="129.21" x2="50.09" y2="125.65" stroke="#e6f4fc" stroke-width="2.0"/><line x1="109.51" y1="107.30" x2="111.43" y2="100.36" stroke="#a8a4dc" stroke-width="2.6"/><line x1="112.62" y1="108.28" x2="115.03" y2="101.50" stroke="#d8eefa" stroke-width="0.9"/></g>
<circle cx="97.0" cy="152.4" r="50.4" fill="none" stroke="#3a8fd2" stroke-width="0.35" opacity="0.8"/>
<circle cx="97.0" cy="152.4" r="45.7" fill="none" stroke="#858585" stroke-width="1.4"/>
<polygon points="60.42,165.71 59.63,165.56 58.54,165.49 57.32,165.44 56.81,165.14 56.99,164.63 57.38,164.05 57.66,163.52 57.80,163.04 57.83,162.59 57.73,162.18 56.99,161.92 56.41,161.61 55.94,161.26 56.13,160.77 56.42,160.27 56.79,159.76 57.07,159.28 56.42,158.95 55.87,158.60 55.37,158.23 55.42,157.78 55.93,157.28 56.39,156.79 56.46,156.35 56.58,155.91 56.43,155.50 56.50,155.06 56.34,154.65 56.36,154.22 56.26,153.79 55.90,153.37 55.39,152.95 55.77,152.51 56.10,152.08 56.30,151.66 55.80,151.21 55.25,150.76 54.72,150.29 54.37,149.83 55.18,149.44 55.81,149.05 55.79,148.61 55.22,148.11 54.76,147.62 54.40,147.12 55.01,146.75 55.61,146.39 56.38,146.06 56.82,145.70 56.76,145.25 56.81,144.83 56.97,144.42 57.05,144.00 56.57,143.46 56.03,142.88 56.12,142.45 56.98,142.21 57.49,141.90 57.66,141.50 57.22,140.93 56.82,140.36 56.87,139.91 57.78,139.74 58.27,139.45 58.51,139.08 58.49,138.62 58.66,138.22 58.16,137.58 58.06,137.07 58.72,136.86 59.33,136.64 59.50,136.25 59.65,135.85 59.80,135.45 59.86,135.00 59.60,134.40 59.37,133.80 59.22,133.23 59.88,133.07 60.37,132.83 60.92,132.64 61.43,132.43 61.63,132.05 61.90,131.71 61.92,131.22 61.62,130.53 61.45,129.91 61.37,129.33 62.05,129.24 62.82,129.24 63.44,129.14 63.76,128.84 63.93,128.44 64.22,128.12 64.50,127.80 64.65,127.37 64.59,126.77 64.26,125.95 64.71,125.75 65.34,125.70 66.09,125.78 66.43,125.51 66.62,125.11 66.95,124.82 67.21,124.48 67.45,124.12 67.87,123.92 68.21,123.66 68.04,122.88 67.83,122.03 67.78,121.34 67.89,120.79 68.53,120.83 69.33,121.06 70.12,121.31 70.55,121.15 70.97,120.98 71.25,120.64 71.66,120.46 71.95,120.15 72.05,119.56 72.06,118.85 72.18,118.27 72.92,118.55 73.55,118.69 74.04,118.64 74.42,118.44 74.63,117.98 74.80,117.45 75.03,116.99 75.32,116.63 75.80,116.57 76.39,116.73 76.90,116.76 77.29,116.57 77.69,116.40 78.04,116.15 78.04,115.21 78.06,114.26 78.36,113.84 79.11,114.39 79.78,114.79 80.29,114.88 80.74,114.84 81.18,114.76 81.58,114.60 81.89,114.23 82.37,114.28 82.71,113.95 83.12,113.84 83.43,113.42 83.45,112.13 83.83,111.85 84.57,112.71 85.17,113.18 85.61,113.17 85.96,112.83 86.25,112.22 86.48,111.39 86.74,110.55 87.30,110.96 87.91,111.66 88.48,112.25 88.90,112.16 89.32,112.03 89.74,111.91 90.17,111.91 90.62,111.97 91.03,111.82 91.47,111.84 91.90,111.83 92.24,111.03 92.60,110.24 93.09,110.73 93.58,111.33 94.03,111.51 94.45,111.38 94.88,111.40 95.31,111.35 95.74,111.30 96.18,111.38 96.60,110.62 97.04,109.78 97.49,109.63 97.92,110.21 98.34,111.09 98.77,111.25 99.22,110.84 99.68,110.48 100.15,110.10 100.57,110.48 100.98,110.80 101.39,111.10 101.78,111.51 102.21,111.57 102.62,111.76 103.05,111.77 103.46,111.96 103.90,111.89 104.39,111.64 104.88,111.38 105.35,111.28 105.67,111.90 106.05,112.20 106.47,112.28 106.95,112.14 107.41,112.12 107.91,111.93 108.27,112.28 108.66,112.48 109.00,112.86 109.31,113.33 109.78,113.28 110.41,112.77 111.03,112.33 111.44,112.50 111.62,113.28 111.78,114.10 112.19,114.24 112.51,114.59 113.18,114.10 113.86,113.63 114.41,113.49 114.50,114.36 114.48,115.44 114.86,115.63 115.29,115.73 115.70,115.87 116.10,116.05 116.46,116.29 116.96,116.27 117.44,116.29 118.06,116.10 118.25,116.65 118.45,117.14 118.68,117.60 119.01,117.88 119.60,117.76 120.12,117.77 120.64,117.79 121.12,117.86 121.25,118.44 121.38,119.01 121.55,119.51 121.84,119.84 122.18,120.10 122.40,120.51 122.83,120.66 123.22,120.86 123.69,120.97 124.25,120.99 124.74,121.10 125.14,121.31 125.22,121.87 125.32,122.40 125.29,123.06 125.88,123.07 126.37,123.18 126.93,123.25 127.55,123.26 127.52,123.89 127.52,124.50 127.55,125.05 127.53,125.64 127.88,125.90 128.13,126.25 128.56,126.45 129.00,126.65 129.32,126.94 129.79,127.12 130.00,127.51 130.11,127.97 130.22,128.42 130.26,128.91 130.46,129.30 130.94,129.49 131.42,129.69 132.00,129.83 131.98,130.36 131.75,131.01 131.78,131.49 131.69,132.04 131.89,132.41 132.03,132.82 132.68,132.94 133.27,133.11 133.15,133.66 132.77,134.33 132.31,135.02 132.20,135.53 132.05,136.06 131.80,136.17 131.63,135.81 131.45,135.44 131.27,135.08 131.09,134.73 130.90,134.37 130.71,134.01 130.52,133.66 130.32,133.31 130.12,132.96 129.91,132.61 129.70,132.27 129.49,131.93 129.27,131.59 129.05,131.25 128.83,130.92 128.60,130.58 128.37,130.25 128.14,129.92 127.90,129.60 127.66,129.28 127.41,128.96 127.16,128.64 126.91,128.32 126.66,128.01 126.40,127.70 126.14,127.39 125.88,127.09 125.61,126.79 125.34,126.49 125.07,126.19 124.79,125.90 124.51,125.61 124.23,125.32 123.94,125.04 123.65,124.75 123.36,124.48 123.07,124.20 122.77,123.93 122.47,123.66 122.16,123.39 121.86,123.13 121.55,122.87 121.24,122.62 120.93,122.36 120.61,122.11 120.29,121.87 119.97,121.63 119.64,121.39 119.32,121.15 118.99,120.92 118.66,120.69 118.32,120.46 117.99,120.24 117.65,120.02 117.31,119.81 116.96,119.60 116.62,119.39 116.27,119.19 115.92,118.98 115.57,118.79 115.21,118.59 114.86,118.41 114.50,118.22 114.14,118.04 113.78,117.86 113.42,117.69 113.05,117.52 112.68,117.35 112.32,117.19 111.94,117.03 111.57,116.87 111.20,116.72 110.82,116.57 110.45,116.43 110.07,116.29 109.69,116.16 109.31,116.03 108.93,115.90 108.54,115.78 108.16,115.66 107.77,115.54 107.38,115.43 106.99,115.32 106.60,115.22 106.21,115.12 105.82,115.03 105.43,114.94 105.04,114.85 104.64,114.77 104.25,114.69 103.85,114.62 103.45,114.55 103.05,114.48 102.66,114.42 102.26,114.36 101.86,114.31 101.46,114.26 101.06,114.21 100.66,114.17 100.25,114.14 99.85,114.11 99.45,114.08 99.05,114.05 98.65,114.04 98.24,114.02 97.84,114.01 97.44,114.00 97.03,114.00 96.63,114.00 96.23,114.01 95.83,114.02 95.42,114.03 95.02,114.05 94.62,114.07 94.22,114.10 93.81,114.13 93.41,114.17 93.01,114.21 92.61,114.25 92.21,114.30 91.81,114.35 91.41,114.41 91.01,114.47 90.62,114.53 90.22,114.60 89.82,114.68 89.43,114.75 89.03,114.84 88.64,114.92 88.25,115.01 87.85,115.11 87.46,115.20 87.07,115.31 86.68,115.41 86.30,115.52 85.91,115.64 85.52,115.75 85.14,115.88 84.76,116.00 84.38,116.13 84.00,116.27 83.62,116.41 83.24,116.55 82.87,116.70 82.49,116.85 82.12,117.00 81.75,117.16 81.38,117.32 81.01,117.49 80.65,117.66 80.28,117.83 79.92,118.01 79.56,118.19 79.20,118.37 78.85,118.56 78.49,118.75 78.14,118.95 77.79,119.15 77.44,119.35 77.10,119.56 76.75,119.77 76.41,119.99 76.07,120.20 75.74,120.43 75.40,120.65 75.07,120.88 74.74,121.11 74.41,121.35 74.09,121.58 73.77,121.83 73.45,122.07 73.13,122.32 72.81,122.57 72.50,122.83 72.19,123.09 71.89,123.35 71.58,123.61 71.28,123.88 70.99,124.15 70.69,124.43 70.40,124.71 70.11,124.99 69.82,125.27 69.54,125.56 69.26,125.85 68.98,126.14 68.71,126.44 68.44,126.73 68.17,127.04 67.90,127.34 67.64,127.65 67.39,127.96 67.13,128.27 66.88,128.58 66.63,128.90 66.39,129.22 66.14,129.54 65.91,129.87 65.67,130.20 65.44,130.53 65.21,130.86 64.99,131.19 64.77,131.53 64.55,131.87 64.34,132.21 64.13,132.56 63.92,132.90 63.72,133.25 63.52,133.60 63.32,133.95 63.13,134.31 62.94,134.66 62.76,135.02 62.58,135.38 62.40,135.74 62.23,136.11 62.06,136.47 61.89,136.84 61.73,137.21 61.57,137.58 61.42,137.96 61.27,138.33 61.12,138.71 60.98,139.08 60.85,139.46 60.71,139.84 60.58,140.22 60.46,140.61 60.33,140.99 60.22,141.38 60.10,141.76 59.99,142.15 59.89,142.54 59.79,142.93 59.69,143.32 59.60,143.71 59.51,144.11 59.42,144.50 59.34,144.89 59.26,145.29 59.19,145.69 59.12,146.08 59.06,146.48 59.00,146.88 58.94,147.28 58.89,147.68 58.84,148.08 58.80,148.48 58.76,148.88 58.73,149.28 58.70,149.68 58.67,150.09 58.65,150.49 58.63,150.89 58.62,151.29 58.61,151.70 58.60,152.10 58.60,152.50 58.60,152.91 58.61,153.31 58.62,153.71 58.64,154.12 58.66,154.52 58.68,154.92 58.71,155.32 58.74,155.72 58.78,156.13 58.82,156.53 58.87,156.93 58.92,157.33 58.97,157.73 59.03,158.12 59.09,158.52 59.16,158.92 59.23,159.32 59.30,159.71 59.38,160.11 59.46,160.50 59.55,160.90 59.64,161.29 59.74,161.68 59.84,162.07 59.94,162.46 60.05,162.85 60.16,163.24 60.28,163.62 60.40,164.01 60.52,164.39 60.65,164.77 60.78,165.15 60.92,165.53" fill="#17a017"/>
<polygon points="133.23,137.76 132.96,138.31 132.33,138.98 131.38,139.75 131.00,140.30 131.46,140.54 132.07,140.74 132.79,140.91 133.04,141.25 132.78,141.74 132.66,142.18 132.35,142.67 132.77,142.95 133.07,143.28 133.32,143.62 133.46,143.99 133.14,144.46 132.58,144.97 131.90,145.50 131.54,145.94 132.31,146.18 132.80,146.48 133.58,146.75 133.80,147.11 133.80,147.50 133.72,147.90 133.77,148.29 133.29,148.73 132.74,149.16 132.25,149.58 132.69,149.92 133.30,150.26 133.79,150.61 133.96,150.99 133.83,151.39 133.24,151.78 132.65,152.17 133.22,152.54 133.77,152.93 134.05,153.32 134.17,153.72 133.98,154.10 133.91,154.48 133.91,154.87 133.85,155.25 133.82,155.64 133.64,156.01 133.29,156.36 133.10,156.72 133.03,157.10 133.16,157.50 133.35,157.92 133.38,158.32 133.02,158.64 132.29,158.90 131.50,159.13 132.16,159.64 132.67,160.14 133.06,160.62 133.04,161.01 132.98,161.40 132.84,161.76 132.64,162.11 131.43,162.17 130.61,162.32 131.53,162.98 132.31,163.63 132.10,163.97 131.38,164.13 130.57,164.25 129.67,164.32 130.10,164.87 130.74,165.52 131.09,166.07 130.53,166.26 129.88,166.39 129.06,166.44 128.75,166.70 129.18,167.30 129.55,167.89 129.79,168.43 130.16,169.04 129.38,169.08 128.65,169.12 128.63,169.54 128.96,170.16 129.18,170.72 128.83,170.97 128.73,171.36 128.48,171.66 127.88,171.74 126.96,171.60 126.67,171.86 127.05,172.56 127.51,173.34 127.25,173.63 126.94,173.88 126.71,174.20 126.61,174.60 126.31,174.86 126.01,175.12 125.56,175.25 124.89,175.21 124.53,175.39 124.43,175.80 124.48,176.34 124.13,176.54 123.88,176.84 123.47,176.97 123.29,177.33 122.99,177.56 122.76,177.86 122.39,178.04 121.81,177.98 121.17,177.84 120.80,177.99 120.94,178.69 121.05,179.37 120.72,179.57 120.55,179.95 120.12,180.03 119.90,180.36 119.65,180.65 118.92,180.34 118.28,180.11 117.88,180.20 117.97,180.92 117.88,181.44 117.44,181.46 116.89,181.33 116.28,181.07 115.84,181.06 115.77,181.62 115.79,182.34 115.71,182.92 115.60,183.47 115.27,183.66 114.94,183.85 114.54,183.91 114.32,184.28 113.98,184.45 113.63,184.61 112.97,184.15 112.40,183.83 111.84,183.51 111.68,184.03 111.63,184.79 111.50,185.42 111.21,185.71 110.81,185.74 110.35,185.61 109.82,185.27 109.18,184.64 108.82,184.70 108.74,185.56 108.50,186.01 108.41,186.89 107.95,186.72 107.49,186.52 107.00,186.16 106.70,186.48 106.41,186.81 106.19,187.45 105.83,187.58 105.46,187.68 105.08,187.72 104.66,187.56 104.17,187.04 103.70,186.59 103.20,185.91 102.98,186.71 102.74,187.49 102.46,188.15 101.99,187.49 101.51,186.76 101.09,186.26 100.81,186.99 100.53,187.82 100.20,188.39 99.83,188.51 99.45,188.53 99.07,188.52 98.68,188.40 98.30,188.16 97.91,187.55 97.54,187.57 97.17,187.86 96.80,188.32 96.42,188.44 96.04,188.52 95.66,188.60 95.28,188.59 94.94,187.76 94.64,186.77 94.27,186.91 93.80,188.04 93.37,188.57 92.99,188.52 92.61,188.48 92.23,188.45 91.86,188.40 91.54,187.95 91.21,187.62 90.93,187.05 90.54,187.11 90.14,187.24 89.71,187.49 89.30,187.60 89.05,187.00 88.73,186.76 88.37,186.66 87.95,186.79 87.43,187.29 87.02,187.33 86.71,187.05 86.31,187.05 85.96,186.90 85.58,186.85 85.29,186.51 85.02,186.15 84.83,185.57 84.43,185.60 83.97,185.74 83.49,185.94 83.16,185.74 82.82,185.57 82.63,185.05 82.55,184.33 82.15,184.32 81.64,184.53 81.02,184.94 80.64,184.86 80.34,184.61 80.04,184.36 79.72,184.16 79.37,183.99 78.98,183.93 78.74,183.57 78.70,182.90 78.61,182.34 78.42,181.95 78.03,181.88 77.58,181.90 77.02,182.06 76.45,182.23 76.12,182.04 76.33,181.10 76.56,180.16 76.20,180.04 75.48,180.38 74.75,180.72 74.29,180.68 74.22,180.16 74.30,179.49 74.28,178.93 74.32,178.34 73.67,178.52 72.95,178.77 72.60,178.59 72.36,178.30 72.32,177.80 72.08,177.52 71.55,177.52 71.04,177.49 70.67,177.32 70.20,177.23 69.98,176.92 69.71,176.65 69.82,176.05 70.07,175.34 69.36,175.45 68.68,175.51 68.71,175.00 68.82,174.43 69.08,173.76 69.06,173.32 68.60,173.20 68.09,173.11 67.43,173.12 66.87,173.05 66.63,172.74 66.27,172.52 66.20,172.11 65.85,171.87 65.68,171.53 65.61,171.12 65.46,170.77 65.56,170.27 65.90,169.65 65.71,169.33 64.76,169.40 64.33,169.20 63.97,168.95 63.76,168.62 64.14,168.01 64.45,167.44 64.76,166.89 64.76,166.49 64.17,166.34 63.36,166.27 62.76,166.10 61.77,166.07 61.11,165.89 60.46,165.70 59.98,165.88 60.12,166.26 60.27,166.65 60.42,167.03 60.57,167.42 60.73,167.80 60.90,168.18 61.06,168.55 61.24,168.93 61.41,169.30 61.59,169.68 61.77,170.05 61.96,170.41 62.15,170.78 62.34,171.15 62.54,171.51 62.75,171.87 62.95,172.23 63.16,172.58 63.37,172.94 63.59,173.29 63.81,173.64 64.04,173.98 64.27,174.33 64.50,174.67 64.73,175.01 64.97,175.35 65.21,175.68 65.46,176.01 65.71,176.34 65.96,176.67 66.22,176.99 66.48,177.31 66.74,177.63 67.01,177.95 67.27,178.26 67.55,178.57 67.82,178.88 68.10,179.18 68.39,179.48 68.67,179.78 68.96,180.08 69.25,180.37 69.55,180.66 69.84,180.95 70.14,181.23 70.45,181.51 70.75,181.79 71.06,182.06 71.38,182.33 71.69,182.60 72.01,182.86 72.33,183.12 72.65,183.38 72.98,183.63 73.31,183.88 73.64,184.13 73.97,184.37 74.31,184.61 74.65,184.85 74.99,185.08 75.33,185.31 75.68,185.53 76.03,185.76 76.38,185.97 76.73,186.19 77.09,186.40 77.45,186.61 77.81,186.81 78.17,187.01 78.53,187.20 78.90,187.39 79.26,187.58 79.63,187.77 80.01,187.95 80.38,188.12 80.76,188.30 81.13,188.46 81.51,188.63 81.89,188.79 82.27,188.94 82.66,189.10 83.04,189.25 83.43,189.39 83.82,189.53 84.21,189.67 84.60,189.80 84.99,189.93 85.39,190.05 85.78,190.17 86.18,190.28 86.58,190.40 86.98,190.50 87.38,190.61 87.78,190.71 88.18,190.80 88.58,190.89 88.99,190.98 89.39,191.06 89.80,191.14 90.20,191.21 90.61,191.28 91.02,191.34 91.43,191.40 91.84,191.46 92.25,191.51 92.66,191.56 93.07,191.60 93.48,191.64 93.89,191.68 94.30,191.71 94.71,191.73 95.13,191.76 95.54,191.77 95.95,191.79 96.36,191.79 96.78,191.80 97.19,191.80 97.60,191.80 98.02,191.79 98.43,191.77 98.84,191.76 99.25,191.74 99.67,191.71 100.08,191.68 100.49,191.65 100.90,191.61 101.31,191.56 101.72,191.52 102.13,191.46 102.54,191.41 102.95,191.35 103.36,191.28 103.77,191.21 104.17,191.14 104.58,191.06 104.98,190.98 105.39,190.90 105.79,190.81 106.19,190.71 106.59,190.61 106.99,190.51 107.39,190.40 107.79,190.29 108.19,190.18 108.58,190.06 108.98,189.94 109.37,189.81 109.76,189.68 110.15,189.54 110.54,189.40 110.93,189.26 111.31,189.11 111.70,188.96 112.08,188.80 112.46,188.64 112.84,188.48 113.22,188.31 113.59,188.14 113.97,187.96 114.34,187.78 114.71,187.60 115.08,187.41 115.44,187.22 115.81,187.02 116.17,186.82 116.53,186.62 116.88,186.41 117.24,186.20 117.59,185.99 117.94,185.77 118.29,185.55 118.64,185.33 118.98,185.10 119.32,184.86 119.66,184.63 120.00,184.39 120.33,184.15 120.67,183.90 121.00,183.65 121.32,183.40 121.65,183.14 121.97,182.88 122.28,182.62 122.60,182.35 122.91,182.08 123.22,181.81 123.53,181.53 123.83,181.25 124.13,180.97 124.43,180.68 124.73,180.39 125.02,180.10 125.31,179.81 125.59,179.51 125.88,179.21 126.16,178.90 126.43,178.59 126.70,178.28 126.97,177.97 127.24,177.66 127.50,177.34 127.76,177.02 128.02,176.69 128.27,176.37 128.52,176.04 128.77,175.71 129.01,175.37 129.25,175.03 129.49,174.69 129.72,174.35 129.95,174.01 130.17,173.66 130.39,173.31 130.61,172.96 130.82,172.61 131.03,172.25 131.24,171.90 131.44,171.54 131.64,171.17 131.83,170.81 132.03,170.44 132.21,170.07 132.40,169.70 132.58,169.33 132.75,168.96 132.92,168.58 133.09,168.21 133.25,167.83 133.41,167.45 133.57,167.06 133.72,166.68 133.87,166.29 134.01,165.91 134.15,165.52 134.29,165.13 134.42,164.73 134.55,164.34 134.67,163.95 134.79,163.55 134.90,163.16 135.01,162.76 135.12,162.36 135.22,161.96 135.32,161.56 135.42,161.15 135.50,160.75 135.59,160.35 135.67,159.94 135.75,159.54 135.82,159.13 135.89,158.72 135.95,158.31 136.01,157.91 136.07,157.50 136.12,157.09 136.17,156.68 136.21,156.27 136.25,155.85 136.28,155.44 136.31,155.03 136.34,154.62 136.36,154.21 136.38,153.79 136.39,153.38 136.40,152.97 136.40,152.55 136.40,152.14 136.39,151.73 136.39,151.32 136.37,150.90 136.35,150.49 136.33,150.08 136.30,149.67 136.27,149.25 136.24,148.84 136.20,148.43 136.16,148.02 136.11,147.61 136.06,147.20 136.00,146.79 135.94,146.38 135.87,145.97 135.80,145.57 135.73,145.16 135.65,144.76 135.57,144.35 135.48,143.95 135.39,143.54 135.30,143.14 135.20,142.74 135.09,142.34 134.99,141.94 134.87,141.54 134.76,141.15 134.64,140.75 134.51,140.36 134.39,139.97 134.25,139.57 134.12,139.18 133.98,138.80 133.83,138.41 133.68,138.02 133.53,137.64" fill="#a010a4"/>
<circle cx="97.0" cy="152.4" r="32.2" fill="none" stroke="#4a4a4a" stroke-width="1.0"/>
<g><circle cx="97.00" cy="122.80" r="0.45" fill="#6a6a6a"/><circle cx="100.64" cy="123.02" r="0.45" fill="#6a6a6a"/><circle cx="104.22" cy="123.69" r="0.45" fill="#6a6a6a"/><circle cx="107.69" cy="124.80" r="0.45" fill="#6a6a6a"/><circle cx="111.00" cy="126.32" r="0.45" fill="#6a6a6a"/><circle cx="114.10" cy="128.24" r="0.45" fill="#6a6a6a"/><circle cx="116.94" cy="130.53" r="0.45" fill="#6a6a6a"/><circle cx="119.48" cy="133.14" r="0.45" fill="#6a6a6a"/><circle cx="121.67" cy="136.05" r="0.45" fill="#6a6a6a"/><circle cx="123.50" cy="139.21" r="0.45" fill="#6a6a6a"/><circle cx="124.92" cy="142.56" r="0.45" fill="#6a6a6a"/><circle cx="125.91" cy="146.07" r="0.45" fill="#6a6a6a"/><circle cx="126.47" cy="149.67" r="0.45" fill="#6a6a6a"/><circle cx="126.59" cy="153.31" r="0.45" fill="#6a6a6a"/><circle cx="126.25" cy="156.94" r="0.45" fill="#6a6a6a"/><circle cx="125.47" cy="160.50" r="0.45" fill="#6a6a6a"/><circle cx="124.26" cy="163.94" r="0.45" fill="#6a6a6a"/><circle cx="122.63" cy="167.20" r="0.45" fill="#6a6a6a"/><circle cx="120.62" cy="170.24" r="0.45" fill="#6a6a6a"/><circle cx="118.25" cy="173.01" r="0.45" fill="#6a6a6a"/><circle cx="115.56" cy="175.46" r="0.45" fill="#6a6a6a"/><circle cx="112.58" cy="177.57" r="0.45" fill="#6a6a6a"/><circle cx="109.37" cy="179.29" r="0.45" fill="#6a6a6a"/><circle cx="105.97" cy="180.61" r="0.45" fill="#6a6a6a"/><circle cx="102.44" cy="181.50" r="0.45" fill="#6a6a6a"/><circle cx="98.82" cy="181.94" r="0.45" fill="#6a6a6a"/><circle cx="95.18" cy="181.94" r="0.45" fill="#6a6a6a"/><circle cx="91.56" cy="181.50" r="0.45" fill="#6a6a6a"/><circle cx="88.03" cy="180.61" r="0.45" fill="#6a6a6a"/><circle cx="84.63" cy="179.29" r="0.45" fill="#6a6a6a"/><circle cx="81.42" cy="177.57" r="0.45" fill="#6a6a6a"/><circle cx="78.44" cy="175.46" r="0.45" fill="#6a6a6a"/><circle cx="75.75" cy="173.01" r="0.45" fill="#6a6a6a"/><circle cx="73.38" cy="170.24" r="0.45" fill="#6a6a6a"/><circle cx="71.37" cy="167.20" r="0.45" fill="#6a6a6a"/><circle cx="69.74" cy="163.94" r="0.45" fill="#6a6a6a"/><circle cx="68.53" cy="160.50" r="0.45" fill="#6a6a6a"/><circle cx="67.75" cy="156.94" r="0.45" fill="#6a6a6a"/><circle cx="67.41" cy="153.31" r="0.45" fill="#6a6a6a"/><circle cx="67.53" cy="149.67" r="0.45" fill="#6a6a6a"/><circle cx="68.09" cy="146.07" r="0.45" fill="#6a6a6a"/><circle cx="69.08" cy="142.56" r="0.45" fill="#6a6a6a"/><circle cx="70.50" cy="139.21" r="0.45" fill="#6a6a6a"/><circle cx="72.33" cy="136.05" r="0.45" fill="#6a6a6a"/><circle cx="74.52" cy="133.14" r="0.45" fill="#6a6a6a"/><circle cx="77.06" cy="130.53" r="0.45" fill="#6a6a6a"/><circle cx="79.90" cy="128.24" r="0.45" fill="#6a6a6a"/><circle cx="83.00" cy="126.32" r="0.45" fill="#6a6a6a"/><circle cx="86.31" cy="124.80" r="0.45" fill="#6a6a6a"/><circle cx="89.78" cy="123.69" r="0.45" fill="#6a6a6a"/><circle cx="93.36" cy="123.02" r="0.45" fill="#6a6a6a"/></g>
<rect x="96.40" y="121.80" width="1.2" height="1.8" fill="#333"/>
<text x="89.50" y="133.00" font-family="Liberation Sans" font-size="4.0" fill="#333" font-weight="normal" font-style="normal" text-anchor="middle" textLength="12.20" lengthAdjust="spacingAndGlyphs" stroke="#333" stroke-width="0.06">1.8 Mbp</text>
<text x="106.80" y="134.80" font-family="Liberation Sans" font-size="4.0" fill="#333" font-weight="normal" font-style="normal" text-anchor="middle" textLength="12.20" lengthAdjust="spacingAndGlyphs" stroke="#333" stroke-width="0.06">0.2 Mbp</text>
<text x="78.30" y="145.50" font-family="Liberation Sans" font-size="4.0" fill="#333" font-weight="normal" font-style="normal" text-anchor="middle" textLength="12.20" lengthAdjust="spacingAndGlyphs" stroke="#333" stroke-width="0.06">1.6 Mbp</text>
<text x="116.50" y="148.40" font-family="Liberation Sans" font-size="4.0" fill="#333" font-weight="normal" font-style="normal" text-anchor="middle" textLength="12.20" lengthAdjust="spacingAndGlyphs" stroke="#333" stroke-width="0.06">0.4 Mbp</text>
<text x="77.00" y="160.90" font-family="Liberation Sans" font-size="4.0" fill="#333" font-weight="normal" font-style="normal" text-anchor="middle" textLength="12.20" lengthAdjust="spacingAndGlyphs" stroke="#333" stroke-width="0.06">1.4 Mbp</text>
<text x="116.00" y="161.90" font-family="Liberation Sans" font-size="4.0" fill="#333" font-weight="normal" font-style="normal" text-anchor="middle" textLength="12.20" lengthAdjust="spacingAndGlyphs" stroke="#333" stroke-width="0.06">0.6 Mbp</text>
<text x="84.70" y="173.10" font-family="Liberation Sans" font-size="4.0" fill="#333" font-weight="normal" font-style="normal" text-anchor="middle" textLength="12.20" lengthAdjust="spacingAndGlyphs" stroke="#333" stroke-width="0.06">1.2 Mbp</text>
<text x="104.60" y="175.00" font-family="Liberation Sans" font-size="4.0" fill="#333" font-weight="normal" font-style="normal" text-anchor="middle" textLength="12.20" lengthAdjust="spacingAndGlyphs" stroke="#333" stroke-width="0.06">0.8 Mbp</text>
<text x="94.70" y="179.80" font-family="Liberation Sans" font-size="4.0" fill="#333" font-weight="normal" font-style="normal" text-anchor="middle" textLength="12.20" lengthAdjust="spacingAndGlyphs" stroke="#333" stroke-width="0.06">1.0 Mbp</text>
<text x="248.00" y="77.60" font-family="Liberation Sans" font-size="11.3" fill="#111" font-weight="bold" font-style="normal" text-anchor="start" textLength="15.30" lengthAdjust="spacingAndGlyphs" stroke="#111" stroke-width="0.35">(B)</text>
<text transform="translate(454.90,69.1) rotate(-90)" x="0" y="0" font-family="Liberation Sans" font-size="8.0" fill="#111" stroke="#111" stroke-width="0.28" textLength="49.40" lengthAdjust="spacingAndGlyphs">Species cluster</text>
<text transform="translate(468.20,69.1) rotate(-90)" x="0" y="0" font-family="Liberation Sans" font-size="8.0" fill="#111" stroke="#111" stroke-width="0.28" textLength="62.00" lengthAdjust="spacingAndGlyphs">Subspecies cluster</text>
<text transform="translate(483.20,69.1) rotate(-90)" x="0" y="0" font-family="Liberation Sans" font-size="8.0" fill="#111" stroke="#111" stroke-width="0.28" textLength="38.50" lengthAdjust="spacingAndGlyphs">Percent G+C</text>
<text transform="translate(491.60,69.1) rotate(-90)" x="0" y="0" font-family="Liberation Sans" font-size="8.0" fill="#111" stroke="#111" stroke-width="0.28" textLength="48.40" lengthAdjust="spacingAndGlyphs">delta statistics</text>
<text transform="translate(500.60,69.1) rotate(-90)" x="0" y="0" font-family="Liberation Sans" font-size="8.0" fill="#111" stroke="#111" stroke-width="0.28" textLength="66.40" lengthAdjust="spacingAndGlyphs">Genome size (in bp)</text>
<text transform="translate(514.80,69.1) rotate(-90)" x="0" y="0" font-family="Liberation Sans" font-size="8.0" fill="#111" stroke="#111" stroke-width="0.28" textLength="45.80" lengthAdjust="spacingAndGlyphs">Protein count</text>
<text transform="translate(530.00,69.1) rotate(-90)" x="0" y="0" font-family="Liberation Sans" font-size="8.0" fill="#111" stroke="#111" stroke-width="0.28" textLength="38.60" lengthAdjust="spacingAndGlyphs">User strain?</text>
<text transform="translate(543.60,69.1) rotate(-90)" x="0" y="0" font-family="Liberation Sans" font-size="8.0" fill="#111" stroke="#111" stroke-width="0.28" textLength="45.80" lengthAdjust="spacingAndGlyphs">Type species?</text>
<path d="M249.40 136.40V209.60M249.40 136.40H255.60M255.60 108.70V163.80M255.60 108.70H257.20M257.20 96.50V122.30M257.20 96.50H328.40M328.40 85.90V107.96M328.40 85.90H336.20M336.20 78.80V93.30M336.20 78.80H338.90M336.20 93.30H339.60M339.60 88.52V98.24M339.60 88.52H339.90M339.60 98.24H339.90M328.40 107.96H339.10M257.20 122.30H264.10M264.10 117.68V127.40M264.10 117.68H347.50M264.10 127.40H313.70M255.60 163.80H260.70M260.70 144.40V184.00M260.70 144.40H271.90M271.90 137.12V151.60M271.90 137.12H331.10M271.90 151.60H274.80M274.80 146.84V156.56M274.80 146.84H319.80M274.80 156.56H334.30M260.70 184.00H265.10M265.10 172.90V195.44M265.10 172.90H267.20M267.20 166.28V180.40M267.20 166.28H335.50M267.20 180.40H287.40M287.40 176.00V185.72M287.40 176.00H335.00M287.40 185.72H345.50M265.10 195.44H320.50M249.40 209.60H251.60M251.60 205.16V214.88M251.60 205.16H347.60M251.60 214.88H334.70" fill="none" stroke="#7a7a7a" stroke-width="0.9"/>
<text x="319.40" y="101.30" font-family="Liberation Sans" font-size="6.0" fill="#3c3cd0" font-weight="normal" font-style="normal" text-anchor="start" textLength="8.20" lengthAdjust="spacingAndGlyphs">100</text>
<text x="341.30" y="80.80" font-family="Liberation Sans" font-size="6.9" fill="#161616" stroke="#161616" stroke-width="0.2" textLength="32.90" lengthAdjust="spacingAndGlyphs"><tspan>SWP-CGPA01</tspan></text>
<text x="342.00" y="90.52" font-family="Liberation Sans" font-size="6.9" fill="#161616" stroke="#161616" stroke-width="0.2" textLength="90.60" lengthAdjust="spacingAndGlyphs"><tspan font-style="italic">Pediococcus acidilactici</tspan><tspan> DSM 20284</tspan></text>
<text x="342.30" y="100.24" font-family="Liberation Sans" font-size="6.9" fill="#161616" stroke="#161616" stroke-width="0.2" textLength="87.40" lengthAdjust="spacingAndGlyphs"><tspan font-style="italic">Pediococcus acidilactici</tspan><tspan> JCM 8797</tspan></text>
<text x="342.00" y="109.96" font-family="Liberation Sans" font-size="6.9" fill="#161616" stroke="#161616" stroke-width="0.2" textLength="92.70" lengthAdjust="spacingAndGlyphs"><tspan font-style="italic">Pediococcus acidilactici</tspan><tspan> NGRI 0510Q</tspan></text>
<text x="350.10" y="119.68" font-family="Liberation Sans" font-size="6.9" fill="#161616" stroke="#161616" stroke-width="0.2" textLength="93.60" lengthAdjust="spacingAndGlyphs"><tspan font-style="italic">Pediococcus argentinicus</tspan><tspan> DSM 23026</tspan></text>
<text x="316.40" y="129.40" font-family="Liberation Sans" font-size="6.9" fill="#161616" stroke="#161616" stroke-width="0.2" textLength="102.20" lengthAdjust="spacingAndGlyphs"><tspan font-style="italic">Levilactobacillus parabrevis</tspan><tspan> ATCC 53295</tspan></text>
<text x="334.30" y="139.12" font-family="Liberation Sans" font-size="6.9" fill="#161616" stroke="#161616" stroke-width="0.2" textLength="103.60" lengthAdjust="spacingAndGlyphs"><tspan font-style="italic">Lactobacillus malefermentans</tspan><tspan> DSM 5705</tspan></text>
<text x="322.40" y="148.84" font-family="Liberation Sans" font-size="6.9" fill="#161616" stroke="#161616" stroke-width="0.2" textLength="111.50" lengthAdjust="spacingAndGlyphs"><tspan font-style="italic">Companilactobacillus crustorum</tspan><tspan> JCM 15951</tspan></text>
<text x="337.00" y="158.56" font-family="Liberation Sans" font-size="6.9" fill="#161616" stroke="#161616" stroke-width="0.2" textLength="88.20" lengthAdjust="spacingAndGlyphs"><tspan font-style="italic">Pediococcus parvulus</tspan><tspan> NBRC 100673</tspan></text>
<text x="337.70" y="168.28" font-family="Liberation Sans" font-size="6.9" fill="#161616" stroke="#161616" stroke-width="0.2" textLength="84.60" lengthAdjust="spacingAndGlyphs"><tspan font-style="italic">Lentilactobacillus kefiri</tspan><tspan> JCM 5818</tspan></text>
<text x="337.00" y="178.00" font-family="Liberation Sans" font-size="6.9" fill="#161616" stroke="#161616" stroke-width="0.2" textLength="95.20" lengthAdjust="spacingAndGlyphs"><tspan font-style="italic">Pediococcus pentosaceus</tspan><tspan> DSM 20336</tspan></text>
<text x="347.60" y="187.72" font-family="Liberation Sans" font-size="6.9" fill="#161616" stroke="#161616" stroke-width="0.2" textLength="94.30" lengthAdjust="spacingAndGlyphs"><tspan font-style="italic">Levilactobacillus humaensis</tspan><tspan> 213-9(3)</tspan></text>
<text x="323.50" y="197.44" font-family="Liberation Sans" font-size="6.9" fill="#161616" stroke="#161616" stroke-width="0.2" textLength="112.40" lengthAdjust="spacingAndGlyphs"><tspan font-style="italic">Paucilactobacillus hokkaidonensis</tspan><tspan> LOOC260</tspan></text>
<text x="350.60" y="207.16" font-family="Liberation Sans" font-size="6.9" fill="#161616" stroke="#161616" stroke-width="0.2" textLength="79.20" lengthAdjust="spacingAndGlyphs"><tspan font-style="italic">Pediococcus stilesii</tspan><tspan> DSM 18001</tspan></text>
<text x="337.00" y="216.88" font-family="Liberation Sans" font-size="6.9" fill="#161616" stroke="#161616" stroke-width="0.2" textLength="95.90" lengthAdjust="spacingAndGlyphs"><tspan font-style="italic">Pediococcus claussenii</tspan><tspan> ATCC BAA-344</tspan></text>
<g><rect x="447.00" y="75.40" width="7.2" height="6.8" fill="#93cbe6"/><rect x="461.40" y="75.40" width="7.2" height="6.8" fill="#a3522e"/><rect x="476.20" y="75.40" width="7.2" height="6.8" fill="#2fa7dc"/><rect x="485.70" y="75.40" width="7.2" height="6.8" fill="#fbe4d8" stroke="#dcdcdc" stroke-width="0.5"/><rect x="495.0" y="75.40" width="8.9" height="6.8" fill="#000"/><rect x="509.05" y="75.65" width="8.40" height="6.3" fill="#d98b2a" stroke="#c27a22" stroke-width="0.5"/><rect x="447.00" y="85.12" width="7.2" height="6.8" fill="#93cbe6"/><rect x="461.40" y="85.12" width="7.2" height="6.8" fill="#a3522e"/><rect x="476.20" y="85.12" width="7.2" height="6.8" fill="#2fa7dc"/><rect x="485.70" y="85.12" width="7.2" height="6.8" fill="#fdf4ef" stroke="#dcdcdc" stroke-width="0.5"/><rect x="495.0" y="85.12" width="8.9" height="6.8" fill="#000"/><rect x="509.05" y="85.37" width="8.40" height="6.3" fill="#d98b2a" stroke="#c27a22" stroke-width="0.5"/><rect x="447.00" y="94.84" width="7.2" height="6.8" fill="#93cbe6"/><rect x="461.40" y="94.84" width="7.2" height="6.8" fill="#a3522e"/><rect x="476.20" y="94.84" width="7.2" height="6.8" fill="#2fa7dc"/><rect x="485.70" y="94.84" width="7.2" height="6.8" fill="#fdf4ef" stroke="#dcdcdc" stroke-width="0.5"/><rect x="495.0" y="94.84" width="8.9" height="6.8" fill="#000"/><rect x="509.05" y="95.09" width="8.40" height="6.3" fill="#d98b2a" stroke="#c27a22" stroke-width="0.5"/><rect x="447.00" y="104.56" width="7.2" height="6.8" fill="#93cbe6"/><rect x="461.40" y="104.56" width="7.2" height="6.8" fill="#58c84a"/><rect x="476.20" y="104.56" width="7.2" height="6.8" fill="#2fa7dc"/><rect x="485.70" y="104.56" width="7.2" height="6.8" fill="#fdf4ef" stroke="#dcdcdc" stroke-width="0.5"/><rect x="495.0" y="104.56" width="8.9" height="6.8" fill="#000"/><rect x="509.05" y="104.81" width="9.90" height="6.3" fill="#d98b2a" stroke="#c27a22" stroke-width="0.5"/><rect x="447.00" y="114.28" width="7.2" height="6.8" fill="#fc8a14"/><rect x="461.40" y="114.28" width="7.2" height="6.8" fill="#3b7a34"/><rect x="476.20" y="114.28" width="7.2" height="6.8" fill="#dce9f6" stroke="#dcdcdc" stroke-width="0.5"/><rect x="485.70" y="114.28" width="7.2" height="6.8" fill="#e81820"/><rect x="495.0" y="114.28" width="7.7" height="6.8" fill="#000"/><rect x="509.05" y="114.53" width="8.00" height="6.3" fill="#d98b2a" stroke="#c27a22" stroke-width="0.5"/><rect x="447.00" y="124.00" width="7.2" height="6.8" fill="#14a020"/><rect x="461.40" y="124.00" width="7.2" height="6.8" fill="#d8aa48"/><rect x="476.20" y="124.00" width="7.2" height="6.8" fill="#0b3a88"/><rect x="485.70" y="124.00" width="7.2" height="6.8" fill="#7e0606"/><rect x="495.0" y="124.00" width="11.5" height="6.8" fill="#000"/><rect x="509.05" y="124.25" width="11.70" height="6.3" fill="#d98b2a" stroke="#c27a22" stroke-width="0.5"/><rect x="447.00" y="133.72" width="7.2" height="6.8" fill="#f41c20"/><rect x="461.40" y="133.72" width="7.2" height="6.8" fill="#5a4646"/><rect x="476.20" y="133.72" width="7.2" height="6.8" fill="#8ecbe8"/><rect x="485.70" y="133.72" width="7.2" height="6.8" fill="#c20a14"/><rect x="495.0" y="133.72" width="9.1" height="6.8" fill="#000"/><rect x="509.05" y="133.97" width="9.50" height="6.3" fill="#d98b2a" stroke="#c27a22" stroke-width="0.5"/><rect x="447.00" y="143.44" width="7.2" height="6.8" fill="#f4a2ac"/><rect x="461.40" y="143.44" width="7.2" height="6.8" fill="#e25ad2"/><rect x="476.20" y="143.44" width="7.2" height="6.8" fill="#f6f8fb" stroke="#dcdcdc" stroke-width="0.5"/><rect x="485.70" y="143.44" width="7.2" height="6.8" fill="#780606"/><rect x="495.0" y="143.44" width="10.1" height="6.8" fill="#000"/><rect x="509.05" y="143.69" width="10.20" height="6.3" fill="#d98b2a" stroke="#c27a22" stroke-width="0.5"/><rect x="447.00" y="153.16" width="7.2" height="6.8" fill="#7a3ab2"/><rect x="461.40" y="153.16" width="7.2" height="6.8" fill="#30c6a6"/><rect x="476.20" y="153.16" width="7.2" height="6.8" fill="#cadcf0" stroke="#dcdcdc" stroke-width="0.5"/><rect x="485.70" y="153.16" width="7.2" height="6.8" fill="#c40a16"/><rect x="495.0" y="153.16" width="8.7" height="6.8" fill="#000"/><rect x="509.05" y="153.41" width="8.70" height="6.3" fill="#d98b2a" stroke="#c27a22" stroke-width="0.5"/><rect x="447.00" y="162.88" width="7.2" height="6.8" fill="#d06222"/><rect x="461.40" y="162.88" width="7.2" height="6.8" fill="#5a2a82"/><rect x="476.20" y="162.88" width="7.2" height="6.8" fill="#3aa8dc"/><rect x="485.70" y="162.88" width="7.2" height="6.8" fill="#c80a14"/><rect x="495.0" y="162.88" width="11.1" height="6.8" fill="#000"/><rect x="509.05" y="163.13" width="11.50" height="6.3" fill="#d98b2a" stroke="#c27a22" stroke-width="0.5"/><rect x="447.00" y="172.60" width="7.2" height="6.8" fill="#d8b8e2"/><rect x="461.40" y="172.60" width="7.2" height="6.8" fill="#fc5a34"/><rect x="476.20" y="172.60" width="7.2" height="6.8" fill="#dceaf6" stroke="#dcdcdc" stroke-width="0.5"/><rect x="485.70" y="172.60" width="7.2" height="6.8" fill="#f01418"/><rect x="495.0" y="172.60" width="8.0" height="6.8" fill="#000"/><rect x="509.05" y="172.85" width="7.80" height="6.3" fill="#d98b2a" stroke="#c27a22" stroke-width="0.5"/><rect x="447.00" y="182.32" width="7.2" height="6.8" fill="#fcfc82"/><rect x="461.40" y="182.32" width="7.2" height="6.8" fill="#e2b8b2"/><rect x="476.20" y="182.32" width="7.2" height="6.8" fill="#0b3080"/><rect x="485.70" y="182.32" width="7.2" height="6.8" fill="#800808"/><rect x="495.0" y="182.32" width="10.3" height="6.8" fill="#000"/><rect x="509.05" y="182.57" width="10.10" height="6.3" fill="#d98b2a" stroke="#c27a22" stroke-width="0.5"/><rect x="447.00" y="192.04" width="7.2" height="6.8" fill="#92e282"/><rect x="461.40" y="192.04" width="7.2" height="6.8" fill="#7a52d2"/><rect x="476.20" y="192.04" width="7.2" height="6.8" fill="#cadcf0" stroke="#dcdcdc" stroke-width="0.5"/><rect x="485.70" y="192.04" width="7.2" height="6.8" fill="#880808"/><rect x="495.0" y="192.04" width="10.3" height="6.8" fill="#000"/><rect x="509.05" y="192.29" width="10.50" height="6.3" fill="#d98b2a" stroke="#c27a22" stroke-width="0.5"/><rect x="447.00" y="201.76" width="7.2" height="6.8" fill="#fcc272"/><rect x="461.40" y="201.76" width="7.2" height="6.8" fill="#e0508e"/><rect x="476.20" y="201.76" width="7.2" height="6.8" fill="#dceaf6" stroke="#dcdcdc" stroke-width="0.5"/><rect x="485.70" y="201.76" width="7.2" height="6.8" fill="#800808"/><rect x="495.0" y="201.76" width="8.4" height="6.8" fill="#000"/><rect x="509.05" y="202.01" width="8.50" height="6.3" fill="#d98b2a" stroke="#c27a22" stroke-width="0.5"/><rect x="447.00" y="211.48" width="7.2" height="6.8" fill="#1a7ac8"/><rect x="461.40" y="211.48" width="7.2" height="6.8" fill="#8898d8"/><rect x="476.20" y="211.48" width="7.2" height="6.8" fill="#dceaf6" stroke="#dcdcdc" stroke-width="0.5"/><rect x="485.70" y="211.48" width="7.2" height="6.8" fill="#d00e16"/><rect x="495.0" y="211.48" width="8.0" height="6.8" fill="#000"/><rect x="509.05" y="211.73" width="7.80" height="6.3" fill="#d98b2a" stroke="#c27a22" stroke-width="0.5"/></g>
<path d="M526.8 74.7V82.6M522.8 78.65H530.8" stroke="#1a78c6" stroke-width="2.9"/>
<circle cx="541.8" cy="88.2" r="3.85" fill="#ee1010" stroke="#b80808" stroke-width="0.5"/>
<circle cx="541.8" cy="97.5" r="3.85" fill="#ee1010" stroke="#b80808" stroke-width="0.5"/>
<circle cx="541.8" cy="106.9" r="3.85" fill="#ee1010" stroke="#b80808" stroke-width="0.5"/>
<text x="3.60" y="259.00" font-family="Liberation Sans" font-size="11.3" fill="#111" font-weight="bold" font-style="normal" text-anchor="start" textLength="14.20" lengthAdjust="spacingAndGlyphs" stroke="#111" stroke-width="0.35">(C)</text>
<line x1="196.5" y1="267.3" x2="194.0" y2="281.0" stroke="#d2d2d2" stroke-width="0.9"/>
<line x1="193.0" y1="289.1" x2="187.0" y2="323.4" stroke="#d2d2d2" stroke-width="0.9"/>
<line x1="160.0" y1="309.1" x2="180.0" y2="323.4" stroke="#555" stroke-width="0.9"/>
<line x1="210.5" y1="313.0" x2="199.0" y2="323.4" stroke="#d2d2d2" stroke-width="0.9"/>
<line x1="192.0" y1="332.1" x2="208.5" y2="352.6" stroke="#d2d2d2" stroke-width="0.9"/>
<line x1="182.0" y1="332.1" x2="163.0" y2="360.7" stroke="#d2d2d2" stroke-width="0.9"/>
<line x1="127.0" y1="365.8" x2="144.1" y2="365.8" stroke="#d2d2d2" stroke-width="0.9"/>
<line x1="163.0" y1="370.1" x2="173.0" y2="382.7" stroke="#d2d2d2" stroke-width="0.9"/>
<line x1="153.6" y1="370.1" x2="141.5" y2="396.9" stroke="#d2d2d2" stroke-width="0.9"/>
<line x1="76.7" y1="342.0" x2="96.0" y2="361.3" stroke="#8a8a8a" stroke-width="0.9"/>
<line x1="48.0" y1="319.0" x2="63.5" y2="333.6" stroke="#d2d2d2" stroke-width="0.9"/>
<line x1="72.0" y1="381.5" x2="88.7" y2="370.7" stroke="#d2d2d2" stroke-width="0.9"/>
<line x1="112.7" y1="334.5" x2="103.0" y2="361.3" stroke="#d2d2d2" stroke-width="0.9"/>
<line x1="99.5" y1="370.7" x2="99.5" y2="403.3" stroke="#d2d2d2" stroke-width="0.9"/>
<line x1="261.6" y1="290.4" x2="243.0" y2="304.0" stroke="#d2d2d2" stroke-width="0.9"/>
<line x1="270.2" y1="264.0" x2="272.0" y2="281.7" stroke="#d2d2d2" stroke-width="0.9"/>
<line x1="299.4" y1="270.5" x2="283.2" y2="281.7" stroke="#d2d2d2" stroke-width="0.9"/>
<line x1="276.7" y1="290.4" x2="282.0" y2="303.3" stroke="#d2d2d2" stroke-width="0.9"/>
<line x1="293.0" y1="311.5" x2="299.4" y2="323.2" stroke="#777" stroke-width="0.9"/>
<text x="198.60" y="274.60" font-family="Liberation Sans" font-size="5.0" fill="#b8b8b8" font-weight="normal" font-style="normal" text-anchor="middle">16</text>
<text x="196.40" y="306.80" font-family="Liberation Sans" font-size="5.0" fill="#b8b8b8" font-weight="normal" font-style="normal" text-anchor="middle">1126</text>
<text x="171.00" y="315.80" font-family="Liberation Sans" font-size="5.0" fill="#444" font-weight="normal" font-style="normal" text-anchor="middle">1</text>
<text x="215.60" y="318.20" font-family="Liberation Sans" font-size="5.0" fill="#b8b8b8" font-weight="normal" font-style="normal" text-anchor="middle">1636</text>
<text x="205.30" y="342.20" font-family="Liberation Sans" font-size="5.0" fill="#b8b8b8" font-weight="normal" font-style="normal" text-anchor="middle">1136</text>
<text x="177.50" y="346.20" font-family="Liberation Sans" font-size="5.0" fill="#b8b8b8" font-weight="normal" font-style="normal" text-anchor="middle">1297</text>
<text x="135.40" y="366.00" font-family="Liberation Sans" font-size="5.0" fill="#b8b8b8" font-weight="normal" font-style="normal" text-anchor="middle">1128</text>
<text x="171.80" y="375.40" font-family="Liberation Sans" font-size="5.0" fill="#b8b8b8" font-weight="normal" font-style="normal" text-anchor="middle">56</text>
<text x="153.80" y="383.60" font-family="Liberation Sans" font-size="5.0" fill="#b8b8b8" font-weight="normal" font-style="normal" text-anchor="middle">1125</text>
<text x="88.60" y="352.20" font-family="Liberation Sans" font-size="5.0" fill="#666" font-weight="normal" font-style="normal" text-anchor="middle">3</text>
<text x="60.00" y="326.00" font-family="Liberation Sans" font-size="5.0" fill="#b8b8b8" font-weight="normal" font-style="normal" text-anchor="middle">74</text>
<text x="85.10" y="376.00" font-family="Liberation Sans" font-size="5.0" fill="#b8b8b8" font-weight="normal" font-style="normal" text-anchor="middle">0</text>
<text x="113.00" y="347.80" font-family="Liberation Sans" font-size="5.0" fill="#b8b8b8" font-weight="normal" font-style="normal" text-anchor="middle">940</text>
<text x="107.00" y="387.00" font-family="Liberation Sans" font-size="5.0" fill="#b8b8b8" font-weight="normal" font-style="normal" text-anchor="middle">1193</text>
<text x="258.40" y="297.20" font-family="Liberation Sans" font-size="5.0" fill="#b8b8b8" font-weight="normal" font-style="normal" text-anchor="middle">1652</text>
<text x="273.60" y="272.80" font-family="Liberation Sans" font-size="5.0" fill="#b8b8b8" font-weight="normal" font-style="normal" text-anchor="middle">56</text>
<text x="296.60" y="274.80" font-family="Liberation Sans" font-size="5.0" fill="#b8b8b8" font-weight="normal" font-style="normal" text-anchor="middle">67</text>
<text x="285.40" y="297.20" font-family="Liberation Sans" font-size="5.0" fill="#b8b8b8" font-weight="normal" font-style="normal" text-anchor="middle">137</text>
<text x="297.20" y="317.00" font-family="Liberation Sans" font-size="5.0" fill="#666" font-weight="normal" font-style="normal" text-anchor="middle">2</text>
<rect x="167.30" y="259.10" width="61.80" height="8.20" rx="1.5" fill="#cbcbf6"/>
<g transform="translate(167.80,265.95) scale(1,1.13)">
<text x="0.00" y="0.00" font-family="Liberation Sans" font-size="7.5" fill="#2c2c48" font-weight="normal" font-style="normal" text-anchor="start" textLength="60.80" lengthAdjust="spacingAndGlyphs" stroke="#2c2c48" stroke-width="0.0">FDAARGOS_1008</text>
</g>
<rect x="175.50" y="280.90" width="36.30" height="8.20" rx="1.5" fill="#cbcbf6"/>
<g transform="translate(176.00,287.75) scale(1,1.13)">
<text x="0.00" y="0.00" font-family="Liberation Sans" font-size="7.5" fill="#2c2c48" font-weight="normal" font-style="normal" text-anchor="start" textLength="35.30" lengthAdjust="spacingAndGlyphs" stroke="#2c2c48" stroke-width="0.0">ATCC8042</text>
</g>
<rect x="123.60" y="300.90" width="60.90" height="8.20" rx="1.5" fill="#cbcbf6"/>
<g transform="translate(124.10,307.75) scale(1,1.13)">
<text x="0.00" y="0.00" font-family="Liberation Sans" font-size="7.5" fill="#2c2c48" font-weight="normal" font-style="normal" text-anchor="start" textLength="59.90" lengthAdjust="spacingAndGlyphs" stroke="#2c2c48" stroke-width="0.0">FDAARGOS_1133</text>
</g>
<rect x="209.30" y="304.00" width="45.70" height="8.20" rx="1.5" fill="#cbcbf6"/>
<g transform="translate(209.80,310.85) scale(1,1.13)">
<text x="0.00" y="0.00" font-family="Liberation Sans" font-size="7.5" fill="#2c2c48" font-weight="normal" font-style="normal" text-anchor="start" textLength="44.70" lengthAdjust="spacingAndGlyphs" stroke="#2c2c48" stroke-width="0.0">SWP-CGPA01</text>
</g>
<rect x="168.00" y="323.40" width="37.60" height="8.70" rx="1.5" fill="#d8d82c"/>
<g transform="translate(168.50,330.50) scale(1,1.13)">
<text x="0.00" y="0.00" font-family="Liberation Sans" font-size="7.5" fill="#151515" font-weight="normal" font-style="normal" text-anchor="start" textLength="36.60" lengthAdjust="spacingAndGlyphs" stroke="#151515" stroke-width="0.1">DSM20284</text>
</g>
<rect x="196.10" y="352.60" width="32.70" height="8.00" rx="1.5" fill="#cbcbf6"/>
<g transform="translate(196.60,359.35) scale(1,1.13)">
<text x="0.00" y="0.00" font-family="Liberation Sans" font-size="7.5" fill="#2c2c48" font-weight="normal" font-style="normal" text-anchor="start" textLength="31.70" lengthAdjust="spacingAndGlyphs" stroke="#2c2c48" stroke-width="0.0">CACC537</text>
</g>
<rect x="144.10" y="360.70" width="25.10" height="9.40" rx="1.5" fill="#d8d82c"/>
<g transform="translate(144.60,368.15) scale(1,1.13)">
<text x="0.00" y="0.00" font-family="Liberation Sans" font-size="7.5" fill="#151515" font-weight="normal" font-style="normal" text-anchor="start" textLength="24.10" lengthAdjust="spacingAndGlyphs" stroke="#151515" stroke-width="0.1">PMC65</text>
</g>
<rect x="79.80" y="361.30" width="47.20" height="9.40" rx="1.5" fill="#d8d82c"/>
<g transform="translate(80.30,368.75) scale(1,1.13)">
<text x="0.00" y="0.00" font-family="Liberation Sans" font-size="7.5" fill="#151515" font-weight="normal" font-style="normal" text-anchor="start" textLength="46.20" lengthAdjust="spacingAndGlyphs" stroke="#151515" stroke-width="0.1">SRCM101189</text>
</g>
<rect x="19.40" y="310.60" width="46.00" height="8.40" rx="1.5" fill="#cbcbf6"/>
<g transform="translate(19.90,317.55) scale(1,1.13)">
<text x="0.00" y="0.00" font-family="Liberation Sans" font-size="7.5" fill="#2c2c48" font-weight="normal" font-style="normal" text-anchor="start" textLength="45.00" lengthAdjust="spacingAndGlyphs" stroke="#2c2c48" stroke-width="0.0">SRCM100313</text>
</g>
<rect x="48.00" y="333.60" width="46.70" height="8.40" rx="1.5" fill="#cbcbf6"/>
<g transform="translate(48.50,340.55) scale(1,1.13)">
<text x="0.00" y="0.00" font-family="Liberation Sans" font-size="7.5" fill="#2c2c48" font-weight="normal" font-style="normal" text-anchor="start" textLength="45.70" lengthAdjust="spacingAndGlyphs" stroke="#2c2c48" stroke-width="0.0">SRCM102024</text>
</g>
<rect x="42.00" y="381.50" width="46.20" height="8.50" rx="1.5" fill="#cbcbf6"/>
<g transform="translate(42.50,388.50) scale(1,1.13)">
<text x="0.00" y="0.00" font-family="Liberation Sans" font-size="7.5" fill="#2c2c48" font-weight="normal" font-style="normal" text-anchor="start" textLength="45.20" lengthAdjust="spacingAndGlyphs" stroke="#2c2c48" stroke-width="0.0">SRCM100424</text>
</g>
<rect x="103.60" y="325.80" width="22.80" height="8.70" rx="1.5" fill="#cbcbf6"/>
<g transform="translate(104.10,332.90) scale(1,1.13)">
<text x="0.00" y="0.00" font-family="Liberation Sans" font-size="7.5" fill="#2c2c48" font-weight="normal" font-style="normal" text-anchor="start" textLength="21.80" lengthAdjust="spacingAndGlyphs" stroke="#2c2c48" stroke-width="0.0">JQII-5</text>
</g>
<rect x="91.70" y="403.30" width="15.30" height="8.70" rx="1.5" fill="#cbcbf6"/>
<g transform="translate(92.20,410.40) scale(1,1.13)">
<text x="0.00" y="0.00" font-family="Liberation Sans" font-size="7.5" fill="#2c2c48" font-weight="normal" font-style="normal" text-anchor="start" textLength="14.30" lengthAdjust="spacingAndGlyphs" stroke="#2c2c48" stroke-width="0.0">HN9</text>
</g>
<rect x="129.10" y="396.90" width="19.60" height="8.10" rx="1.5" fill="#cbcbf6"/>
<g transform="translate(129.60,403.70) scale(1,1.13)">
<text x="0.00" y="0.00" font-family="Liberation Sans" font-size="7.5" fill="#2c2c48" font-weight="normal" font-style="normal" text-anchor="start" textLength="18.60" lengthAdjust="spacingAndGlyphs" stroke="#2c2c48" stroke-width="0.0">BCC1</text>
</g>
<rect x="168.70" y="382.70" width="24.00" height="7.70" rx="1.5" fill="#cbcbf6"/>
<g transform="translate(169.20,389.30) scale(1,1.13)">
<text x="0.00" y="0.00" font-family="Liberation Sans" font-size="7.5" fill="#2c2c48" font-weight="normal" font-style="normal" text-anchor="start" textLength="23.00" lengthAdjust="spacingAndGlyphs" stroke="#2c2c48" stroke-width="0.0">PMC48</text>
</g>
<rect x="254.70" y="255.80" width="27.40" height="8.20" rx="1.5" fill="#cbcbf6"/>
<g transform="translate(255.20,262.65) scale(1,1.13)">
<text x="0.00" y="0.00" font-family="Liberation Sans" font-size="7.5" fill="#2c2c48" font-weight="normal" font-style="normal" text-anchor="start" textLength="26.40" lengthAdjust="spacingAndGlyphs" stroke="#2c2c48" stroke-width="0.0">BB2-4M</text>
</g>
<rect x="290.10" y="262.30" width="46.00" height="8.20" rx="1.5" fill="#cbcbf6"/>
<g transform="translate(290.60,269.15) scale(1,1.13)">
<text x="0.00" y="0.00" font-family="Liberation Sans" font-size="7.5" fill="#2c2c48" font-weight="normal" font-style="normal" text-anchor="start" textLength="45.00" lengthAdjust="spacingAndGlyphs" stroke="#2c2c48" stroke-width="0.0">SRCM102731</text>
</g>
<rect x="249.70" y="281.70" width="46.90" height="8.70" rx="1.5" fill="#d8d82c"/>
<g transform="translate(250.20,288.80) scale(1,1.13)">
<text x="0.00" y="0.00" font-family="Liberation Sans" font-size="7.5" fill="#151515" font-weight="normal" font-style="normal" text-anchor="start" textLength="45.90" lengthAdjust="spacingAndGlyphs" stroke="#151515" stroke-width="0.1">SRCM102732</text>
</g>
<rect x="277.10" y="303.30" width="23.40" height="8.20" rx="1.5" fill="#cbcbf6"/>
<g transform="translate(277.60,310.15) scale(1,1.13)">
<text x="0.00" y="0.00" font-family="Liberation Sans" font-size="7.5" fill="#2c2c48" font-weight="normal" font-style="normal" text-anchor="start" textLength="22.40" lengthAdjust="spacingAndGlyphs" stroke="#2c2c48" stroke-width="0.0">GLP06</text>
</g>
<rect x="290.80" y="323.20" width="22.60" height="8.20" rx="1.5" fill="#cbcbf6"/>
<g transform="translate(291.30,330.05) scale(1,1.13)">
<text x="0.00" y="0.00" font-family="Liberation Sans" font-size="7.5" fill="#2c2c48" font-weight="normal" font-style="normal" text-anchor="start" textLength="21.60" lengthAdjust="spacingAndGlyphs" stroke="#2c2c48" stroke-width="0.0">CLP03</text>
</g>
</svg>
</body></html>
